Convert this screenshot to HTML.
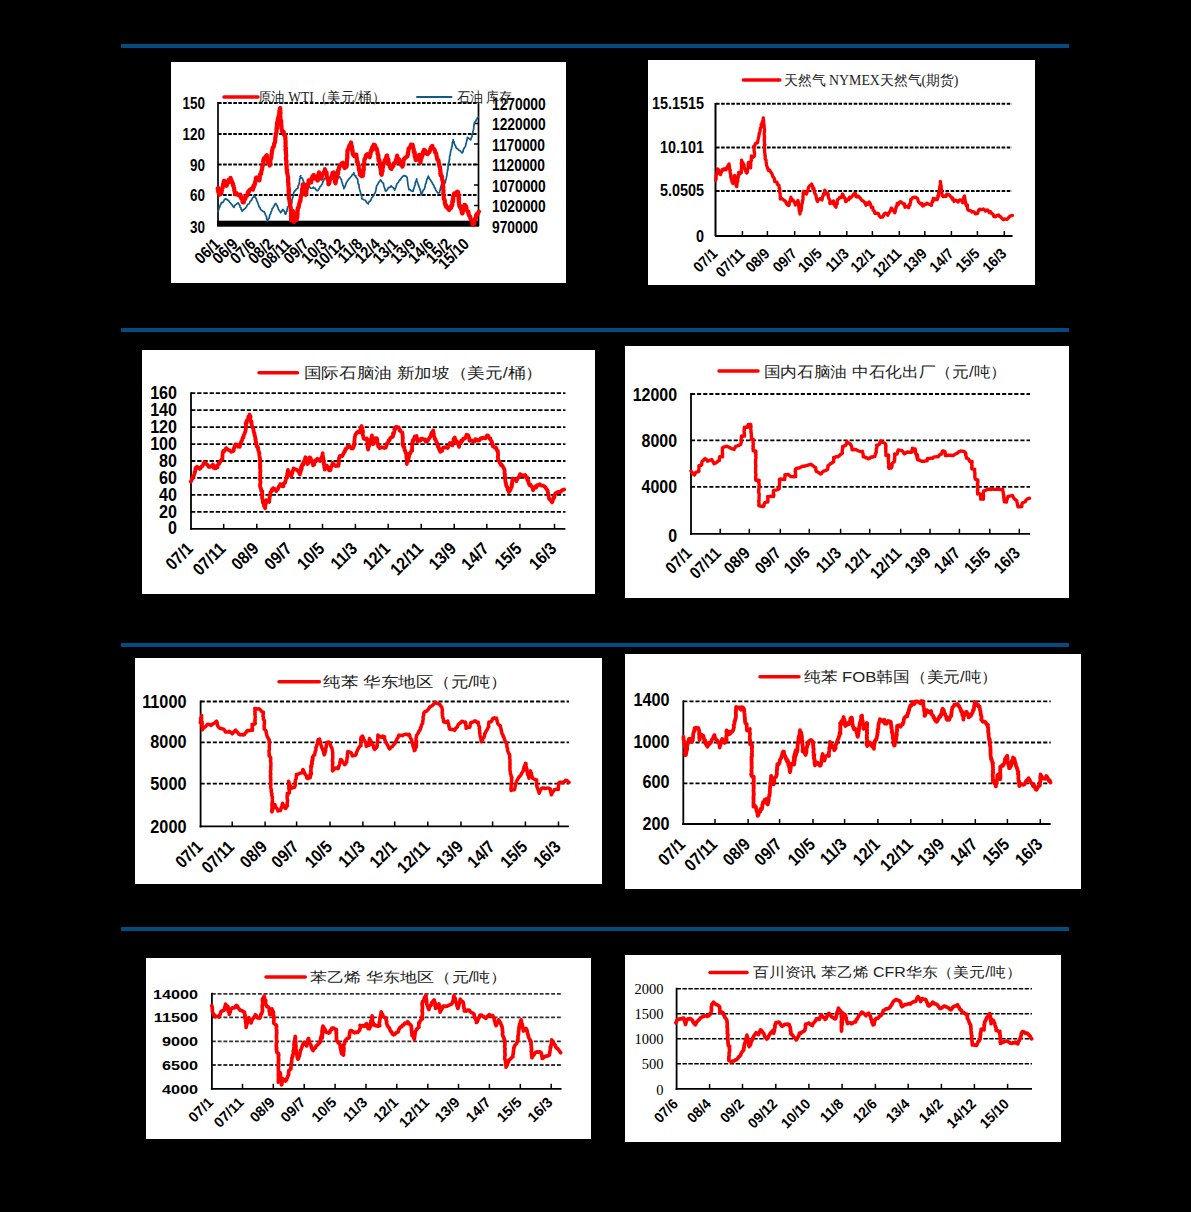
<!DOCTYPE html>
<html><head><meta charset="utf-8"><style>
html,body{margin:0;padding:0;background:#000;width:1191px;height:1212px;overflow:hidden}
svg{display:block;font-family:"Liberation Sans",sans-serif}
</style></head><body>
<svg width="1191" height="1212" viewBox="0 0 1191 1212">
<rect width="1191" height="1212" fill="#000"/>
<rect x="121" y="44" width="948" height="4" fill="#044c80"/>
<rect x="121" y="328" width="948" height="4" fill="#044c80"/>
<rect x="121" y="643" width="948" height="4" fill="#044c80"/>
<rect x="121" y="927" width="948" height="4" fill="#044c80"/>
<rect x="171" y="62" width="395" height="221" fill="#fff"/>
<line x1="218" y1="103" x2="479" y2="103" stroke="#000" stroke-width="2" stroke-dasharray="3.6 1.5"/>
<line x1="218" y1="134" x2="479" y2="134" stroke="#000" stroke-width="2" stroke-dasharray="3.6 1.5"/>
<line x1="218" y1="164.5" x2="479" y2="164.5" stroke="#000" stroke-width="2" stroke-dasharray="3.6 1.5"/>
<line x1="218" y1="195" x2="479" y2="195" stroke="#000" stroke-width="2" stroke-dasharray="3.6 1.5"/>
<line x1="218" y1="102" x2="218" y2="226" stroke="#000" stroke-width="1.7"/>
<line x1="478.5" y1="102" x2="478.5" y2="226" stroke="#000" stroke-width="1.7"/>
<rect x="217" y="220.7" width="262" height="6" fill="#000"/>
<line x1="474" y1="123.5" x2="479" y2="123.5" stroke="#000" stroke-width="1.5"/>
<line x1="474" y1="144" x2="479" y2="144" stroke="#000" stroke-width="1.5"/>
<line x1="474" y1="164.5" x2="479" y2="164.5" stroke="#000" stroke-width="1.5"/>
<line x1="474" y1="185" x2="479" y2="185" stroke="#000" stroke-width="1.5"/>
<line x1="474" y1="205.5" x2="479" y2="205.5" stroke="#000" stroke-width="1.5"/>
<text transform="translate(205 103) scale(0.8 1)" font-size="16.8" font-weight="bold" text-anchor="end" dominant-baseline="central">150</text>
<text transform="translate(205 134) scale(0.8 1)" font-size="16.8" font-weight="bold" text-anchor="end" dominant-baseline="central">120</text>
<text transform="translate(205 164.5) scale(0.8 1)" font-size="16.8" font-weight="bold" text-anchor="end" dominant-baseline="central">90</text>
<text transform="translate(205 195) scale(0.8 1)" font-size="16.8" font-weight="bold" text-anchor="end" dominant-baseline="central">60</text>
<text transform="translate(205 227) scale(0.8 1)" font-size="16.8" font-weight="bold" text-anchor="end" dominant-baseline="central">30</text>
<text transform="translate(492 103.5) scale(0.82 1)" font-size="16.8" font-weight="bold" text-anchor="start" dominant-baseline="central">1270000</text>
<text transform="translate(492 124) scale(0.82 1)" font-size="16.8" font-weight="bold" text-anchor="start" dominant-baseline="central">1220000</text>
<text transform="translate(492 144.5) scale(0.82 1)" font-size="16.8" font-weight="bold" text-anchor="start" dominant-baseline="central">1170000</text>
<text transform="translate(492 165) scale(0.82 1)" font-size="16.8" font-weight="bold" text-anchor="start" dominant-baseline="central">1120000</text>
<text transform="translate(492 185.5) scale(0.82 1)" font-size="16.8" font-weight="bold" text-anchor="start" dominant-baseline="central">1070000</text>
<text transform="translate(492 206) scale(0.82 1)" font-size="16.8" font-weight="bold" text-anchor="start" dominant-baseline="central">1020000</text>
<text transform="translate(492 227) scale(0.82 1)" font-size="16.8" font-weight="bold" text-anchor="start" dominant-baseline="central">970000</text>
<text transform="translate(221.0 245.0) rotate(-45) scale(0.88 1)" font-size="16.3" font-weight="bold" text-anchor="end">06/1</text>
<text transform="translate(238.8 245.0) rotate(-45) scale(0.88 1)" font-size="16.3" font-weight="bold" text-anchor="end">06/9</text>
<text transform="translate(256.6 245.0) rotate(-45) scale(0.88 1)" font-size="16.3" font-weight="bold" text-anchor="end">07/6</text>
<text transform="translate(274.4 245.0) rotate(-45) scale(0.88 1)" font-size="16.3" font-weight="bold" text-anchor="end">08/2</text>
<text transform="translate(292.2 245.0) rotate(-45) scale(0.88 1)" font-size="16.3" font-weight="bold" text-anchor="end">08/11</text>
<text transform="translate(310.0 245.0) rotate(-45) scale(0.88 1)" font-size="16.3" font-weight="bold" text-anchor="end">09/7</text>
<text transform="translate(327.8 245.0) rotate(-45) scale(0.88 1)" font-size="16.3" font-weight="bold" text-anchor="end">10/3</text>
<text transform="translate(345.6 245.0) rotate(-45) scale(0.88 1)" font-size="16.3" font-weight="bold" text-anchor="end">10/12</text>
<text transform="translate(363.4 245.0) rotate(-45) scale(0.88 1)" font-size="16.3" font-weight="bold" text-anchor="end">11/8</text>
<text transform="translate(381.2 245.0) rotate(-45) scale(0.88 1)" font-size="16.3" font-weight="bold" text-anchor="end">12/4</text>
<text transform="translate(399.0 245.0) rotate(-45) scale(0.88 1)" font-size="16.3" font-weight="bold" text-anchor="end">13/1</text>
<text transform="translate(416.8 245.0) rotate(-45) scale(0.88 1)" font-size="16.3" font-weight="bold" text-anchor="end">13/9</text>
<text transform="translate(434.6 245.0) rotate(-45) scale(0.88 1)" font-size="16.3" font-weight="bold" text-anchor="end">14/6</text>
<text transform="translate(452.4 245.0) rotate(-45) scale(0.88 1)" font-size="16.3" font-weight="bold" text-anchor="end">15/2</text>
<text transform="translate(470.2 245.0) rotate(-45) scale(0.88 1)" font-size="16.3" font-weight="bold" text-anchor="end">15/10</text>
<path d="M217.7,211.6 L218.5,210.3 L218.8,209.2 L219.1,207.9 L219.9,207.0 L220.1,205.2 L220.7,204.6 L221.6,202.4 L222.8,202.6 L223.7,201.2 L224.4,199.6 L225.7,198.7 L227.2,199.7 L228.7,200.8 L229.7,202.3 L230.6,203.2 L231.4,204.2 L232.1,204.9 L233.3,206.8 L234.0,207.5 L234.5,206.0 L235.4,204.8 L236.5,204.3 L237.4,203.3 L238.3,202.9 L238.3,203.2 L239.4,204.7 L240.0,205.7 L240.0,207.2 L240.9,207.9 L241.0,209.1 L242.1,210.7 L242.1,211.3 L243.1,210.0 L244.4,209.0 L245.2,208.3 L245.9,207.6 L246.6,206.5 L247.3,205.2 L248.1,204.0 L249.3,203.7 L249.6,202.8 L250.2,201.2 L251.3,200.6 L251.6,200.0 L252.4,198.1 L253.4,197.2 L253.9,195.9 L254.4,195.6 L255.0,196.8 L255.6,197.8 L256.4,199.0 L256.7,200.6 L256.9,200.9 L257.9,202.9 L258.0,203.3 L258.7,205.4 L258.9,206.5 L259.8,207.3 L260.0,207.9 L260.7,209.8 L261.8,210.3 L262.8,211.3 L264.0,211.5 L264.7,212.9 L265.0,213.5 L265.7,215.5 L266.1,216.1 L266.7,217.2 L266.5,218.5 L267.1,219.5 L267.4,221.1 L268.1,219.6 L268.4,219.4 L269.2,217.9 L269.5,216.7 L269.6,214.9 L270.0,214.7 L270.8,213.6 L270.9,212.1 L271.6,211.0 L271.9,210.2 L272.2,208.5 L273.1,207.8 L273.7,206.4 L274.4,205.6 L274.8,204.3 L275.8,203.4 L276.2,204.5 L277.0,205.5 L277.5,206.5 L278.1,207.9 L278.4,209.2 L279.5,210.7 L280.0,211.3 L280.6,212.7 L281.3,212.0 L282.0,210.8 L282.8,209.5 L283.8,210.4 L284.6,212.1 L285.2,213.9 L285.7,214.2 L286.0,213.8 L286.2,211.9 L287.0,211.3 L287.0,210.3 L287.2,208.9 L287.5,207.3 L288.1,206.7 L289.2,205.3 L290.1,204.5 L290.9,204.1 L291.7,203.3 L291.9,202.3 L291.9,200.1 L292.3,199.1 L292.5,198.1 L293.0,197.0 L293.1,196.3 L293.8,194.6 L293.5,193.0 L294.3,191.8 L294.5,191.3 L295.3,190.8 L296.2,189.3 L297.6,188.5 L298.1,187.5 L298.0,186.1 L298.6,185.3 L298.8,184.3 L299.2,183.5 L299.5,181.4 L299.6,180.1 L299.6,179.3 L300.4,177.7 L300.4,176.7 L300.9,175.7 L300.1,176.5 L300.8,177.6 L302.0,177.8 L302.9,179.6 L303.1,180.7 L304.1,182.6 L304.6,183.5 L305.6,185.1 L307.0,184.7 L308.1,184.4 L309.1,186.2 L309.9,187.2 L310.6,188.4 L312.4,188.0 L313.4,187.2 L314.2,188.2 L315.3,188.4 L315.7,189.4 L316.9,190.6 L317.7,190.6 L318.5,189.6 L319.2,188.6 L319.5,188.3 L320.1,186.5 L320.9,186.1 L321.7,184.8 L322.4,183.3 L323.1,181.6 L323.3,180.8 L323.9,179.8 L324.8,178.3 L326.5,177.6 L327.8,176.6 L329.2,178.1 L329.9,178.9 L331.4,179.4 L332.8,179.0 L334.3,179.4 L335.5,178.0 L336.8,177.8 L337.5,177.3 L338.7,176.2 L339.6,176.7 L340.4,178.2 L341.6,179.9 L341.5,180.6 L341.7,181.7 L342.5,183.5 L342.6,184.0 L342.8,185.6 L343.6,186.2 L343.8,187.3 L343.8,188.7 L344.6,187.6 L345.0,186.7 L345.4,185.6 L345.9,184.0 L346.5,182.4 L347.2,181.5 L347.9,180.4 L348.8,179.0 L349.4,178.5 L350.5,177.3 L351.4,176.3 L352.2,174.8 L353.0,174.4 L353.9,172.7 L354.2,174.5 L354.7,175.7 L355.7,175.7 L356.0,177.5 L356.6,177.8 L357.6,179.3 L357.8,180.1 L357.9,182.0 L357.9,182.6 L358.6,184.6 L359.0,184.8 L359.0,186.8 L359.3,187.9 L359.3,188.3 L359.6,189.4 L360.1,191.2 L360.5,192.0 L360.6,193.3 L361.3,195.5 L361.8,195.7 L361.6,198.0 L362.2,199.0 L363.2,199.4 L364.4,200.0 L365.5,200.3 L366.5,202.3 L367.0,202.9 L368.3,203.9 L368.6,202.6 L369.4,201.3 L370.3,201.2 L370.8,200.2 L371.4,198.6 L372.0,197.6 L372.9,196.9 L373.1,196.0 L374.0,194.7 L374.7,193.2 L375.3,192.7 L375.6,191.3 L376.0,189.6 L376.3,188.0 L376.4,187.2 L376.6,185.8 L377.3,184.9 L377.9,184.1 L378.9,182.1 L379.7,181.2 L380.5,179.8 L381.6,181.3 L382.4,182.7 L383.4,183.1 L383.7,185.2 L383.9,186.1 L384.2,187.1 L384.8,188.2 L385.2,190.4 L385.8,191.2 L386.9,190.2 L387.7,189.2 L388.4,187.5 L389.4,187.6 L390.1,187.1 L391.2,185.8 L392.0,186.9 L393.1,187.5 L394.1,189.0 L394.7,190.2 L395.1,188.6 L395.8,187.7 L396.1,186.6 L396.7,184.5 L397.2,183.3 L397.7,182.9 L398.6,182.0 L399.6,179.9 L400.6,179.9 L400.8,178.8 L402.1,177.2 L403.5,175.9 L404.3,175.6 L405.8,176.1 L407.3,177.6 L407.2,178.1 L407.4,179.8 L407.4,180.6 L407.7,182.0 L407.9,184.0 L408.0,184.8 L408.3,186.3 L408.6,187.8 L408.9,189.6 L410.2,189.5 L411.2,191.0 L413.1,191.4 L413.2,189.7 L413.8,188.9 L414.1,187.8 L414.6,186.1 L414.6,185.9 L415.4,184.6 L415.2,182.4 L415.8,181.7 L416.4,180.1 L416.7,178.9 L416.8,180.8 L417.4,181.9 L417.7,182.8 L418.0,183.8 L418.7,185.6 L418.6,185.9 L419.4,187.6 L419.8,188.3 L419.9,189.5 L420.6,190.8 L420.8,192.7 L421.0,193.3 L421.6,194.9 L422.1,193.0 L422.5,192.3 L423.2,190.1 L424.1,189.3 L424.8,187.7 L425.2,186.3 L425.2,185.8 L425.4,184.2 L426.1,183.5 L426.2,181.7 L426.5,181.2 L426.9,179.3 L427.4,178.6 L427.8,177.9 L428.2,176.1 L428.8,177.0 L429.2,178.2 L430.3,179.9 L430.6,180.3 L431.4,181.4 L432.1,182.5 L432.6,183.9 L433.6,185.1 L434.2,186.3 L434.4,187.7 L435.4,188.3 L435.5,189.8 L436.4,191.0 L437.3,192.3 L437.8,192.8 L439.7,192.6 L439.7,190.5 L440.4,190.2 L440.3,188.7 L440.6,187.6 L441.2,185.7 L441.2,185.1 L442.6,184.4 L443.8,183.1 L445.4,182.8 L445.3,181.4 L445.7,180.4 L446.1,178.8 L446.3,177.9 L446.5,176.8 L446.8,175.7 L447.1,174.1 L447.1,173.0 L447.5,171.4 L447.5,169.8 L448.0,169.6 L448.0,167.4 L448.1,166.4 L448.4,165.8 L448.5,163.7 L448.7,162.8 L449.3,161.0 L449.1,160.0 L449.6,159.3 L449.5,157.0 L449.8,155.9 L450.1,155.2 L450.5,153.3 L450.5,152.1 L450.7,151.4 L451.1,149.9 L451.6,148.6 L451.5,147.8 L452.2,145.9 L452.2,145.3 L452.4,143.2 L452.4,142.8 L453.1,140.8 L453.1,139.7 L453.5,141.5 L454.1,141.8 L454.2,143.3 L454.9,145.0 L455.6,146.0 L455.7,146.6 L456.2,148.0 L457.8,149.0 L458.9,150.3 L460.0,150.5 L461.0,151.8 L462.0,153.0 L463.1,151.6 L463.3,149.6 L464.4,148.1 L464.9,147.2 L465.5,146.1 L465.8,144.6 L466.1,143.5 L466.5,141.9 L466.8,140.8 L467.0,140.0 L467.1,139.2 L467.5,137.3 L468.4,138.0 L469.7,139.2 L470.8,139.9 L471.0,138.3 L471.5,137.8 L472.1,136.1 L472.0,134.5 L472.8,133.1 L473.0,132.1 L472.9,131.6 L473.6,129.4 L473.7,128.3 L473.7,127.4 L473.9,126.0 L474.1,125.1 L474.2,123.4 L474.7,122.3 L475.6,121.5 L476.2,120.2 L477.0,118.8 L477.4,117.8 L478.3,117.2" fill="none" stroke="#0e5a8a" stroke-width="1.7" stroke-linejoin="round" stroke-linecap="round" />
<path d="M217.7,188.5 L218.1,188.0 L218.0,190.1 L218.5,192.9 L219.1,193.5 L219.3,194.9 L220.2,193.1 L221.2,193.6 L221.5,192.1 L221.8,190.5 L222.2,188.4 L222.8,185.9 L222.7,187.7 L223.2,183.7 L223.8,185.4 L223.6,182.5 L223.9,180.9 L225.1,181.5 L226.0,182.1 L226.6,185.8 L227.4,183.4 L228.1,182.5 L228.6,179.9 L229.4,182.0 L230.2,179.9 L230.5,177.8 L231.2,180.2 L231.4,179.9 L232.1,182.1 L232.9,183.3 L233.0,185.7 L233.7,185.9 L233.8,186.8 L234.2,189.2 L234.2,189.7 L234.5,191.4 L234.6,191.2 L235.1,193.6 L235.1,194.3 L236.6,193.3 L238.2,195.2 L239.7,194.9 L239.9,196.0 L240.5,194.7 L241.2,198.4 L241.2,197.4 L242.1,198.9 L242.3,199.0 L242.6,202.3 L243.8,202.5 L244.1,198.1 L244.6,199.7 L245.5,198.1 L245.8,196.6 L246.6,195.9 L247.0,195.9 L248.0,192.0 L248.1,193.3 L248.7,192.3 L249.3,190.2 L251.1,188.9 L252.4,189.3 L253.0,189.6 L253.0,189.1 L253.5,185.7 L253.9,187.1 L254.3,184.7 L254.8,184.7 L255.1,181.6 L255.3,182.1 L255.8,179.8 L255.9,178.0 L256.4,177.5 L257.4,179.0 L259.2,180.4 L259.6,179.6 L259.7,178.0 L260.0,174.4 L260.3,174.0 L261.0,174.1 L261.2,172.6 L261.3,171.2 L262.0,169.5 L262.0,168.3 L262.3,168.1 L262.4,164.8 L262.7,165.7 L263.2,164.4 L263.5,162.2 L263.1,161.4 L263.6,159.1 L263.9,158.5 L265.0,157.3 L266.8,155.2 L266.9,157.4 L267.4,159.1 L267.9,162.0 L268.6,162.5 L269.0,163.0 L269.8,165.5 L269.8,162.9 L270.4,162.9 L270.3,160.6 L270.8,158.8 L271.0,158.4 L271.4,156.7 L271.5,154.7 L271.8,153.3 L271.9,152.1 L272.1,150.1 L272.3,150.4 L272.7,147.5 L273.3,147.1 L273.7,147.0 L273.7,146.8 L274.3,143.7 L274.2,143.6 L275.0,142.3 L275.2,140.5 L275.3,138.7 L275.3,137.9 L275.5,136.7 L275.9,134.7 L275.7,133.7 L276.3,133.4 L276.0,133.2 L276.6,132.0 L276.5,130.4 L276.6,127.2 L277.1,128.3 L276.9,127.2 L276.9,124.0 L277.1,122.4 L277.4,123.0 L277.7,120.1 L277.8,119.3 L278.4,119.1 L278.1,118.2 L278.6,116.2 L278.8,115.7 L279.1,114.0 L279.2,112.7 L279.4,111.2 L279.5,110.5 L279.8,108.5 L280.2,108.0 L280.2,109.9 L280.4,111.1 L280.1,111.4 L280.3,113.8 L280.6,112.9 L280.2,114.1 L280.3,115.2 L280.4,117.0 L280.5,119.7 L280.9,121.9 L281.2,122.4 L281.3,121.2 L281.0,125.5 L281.2,124.3 L281.5,126.2 L281.4,127.1 L281.4,127.6 L282.2,131.6 L283.1,132.0 L283.6,131.7 L283.9,134.7 L284.7,134.9 L285.0,134.5 L285.3,137.4 L285.5,138.7 L285.3,138.6 L285.7,141.9 L285.5,140.4 L285.6,142.8 L285.5,142.9 L285.6,145.4 L285.4,146.4 L286.0,148.3 L285.6,148.4 L285.6,150.7 L285.9,150.0 L285.9,152.6 L286.0,153.1 L285.9,154.2 L286.3,155.3 L286.1,157.0 L285.9,158.0 L286.0,158.9 L286.1,160.2 L286.5,161.3 L286.2,163.7 L286.3,164.4 L286.6,164.2 L286.7,165.5 L286.6,169.2 L287.2,170.0 L286.9,170.5 L287.1,173.1 L287.2,172.2 L287.6,175.0 L287.7,175.7 L288.1,176.9 L288.2,177.9 L288.0,179.0 L288.2,181.6 L288.0,182.0 L288.4,183.2 L288.4,184.8 L288.5,185.1 L288.3,185.2 L288.8,189.0 L288.5,190.8 L288.9,189.3 L288.9,191.4 L288.7,192.1 L288.8,192.6 L288.7,194.0 L288.9,195.4 L289.0,199.0 L289.3,199.1 L289.6,202.0 L289.5,200.9 L290.1,204.5 L290.4,204.5 L290.2,204.7 L290.7,207.9 L290.7,209.3 L290.6,209.8 L291.1,209.7 L291.0,211.3 L291.2,214.9 L291.2,214.8 L290.9,216.4 L291.2,217.4 L291.1,220.5 L291.7,218.0 L292.1,217.8 L292.2,215.4 L292.7,213.5 L293.0,211.0 L293.1,214.1 L293.2,217.0 L293.1,216.3 L293.7,218.8 L293.7,220.3 L294.0,221.9 L294.3,219.0 L294.4,216.9 L294.6,215.6 L295.4,214.7 L295.5,213.5 L296.1,216.1 L295.9,218.3 L296.6,220.0 L296.6,219.3 L297.0,217.6 L297.1,217.8 L297.3,217.0 L297.5,213.9 L297.6,213.2 L297.4,210.6 L297.8,210.5 L297.6,209.7 L297.9,207.9 L298.2,207.4 L298.6,207.6 L299.2,203.9 L299.6,202.6 L300.0,200.4 L300.0,202.0 L300.6,199.9 L300.8,196.6 L301.6,195.1 L301.3,195.1 L301.9,194.8 L302.2,193.9 L302.0,193.2 L302.1,189.1 L302.7,190.7 L302.7,188.1 L302.6,186.1 L302.7,184.4 L302.7,188.5 L302.8,188.5 L302.5,189.7 L302.3,191.9 L303.0,191.0 L303.3,188.8 L303.6,187.1 L304.3,184.6 L304.4,186.8 L304.6,188.7 L305.0,191.2 L305.5,190.9 L305.6,191.7 L305.7,194.9 L306.4,192.7 L306.5,189.8 L306.7,188.7 L306.9,188.9 L307.0,186.5 L307.6,186.2 L308.0,183.9 L307.8,185.4 L308.4,183.4 L308.6,180.3 L309.9,182.6 L311.0,182.5 L310.9,182.6 L311.2,182.4 L311.5,178.6 L311.8,178.0 L312.5,178.8 L312.7,176.1 L312.6,176.2 L313.7,175.1 L315.0,178.5 L315.5,177.2 L316.7,178.4 L317.3,180.3 L317.3,179.3 L317.7,180.5 L318.2,177.9 L318.0,175.4 L318.4,176.3 L319.0,172.4 L319.6,176.7 L320.4,174.7 L321.3,178.6 L321.8,176.8 L322.1,175.3 L322.6,173.9 L323.4,173.6 L323.7,172.8 L324.2,171.4 L324.9,170.4 L324.9,169.2 L325.6,172.5 L325.8,173.4 L326.4,172.1 L326.6,173.4 L326.9,177.8 L327.4,178.8 L327.8,178.4 L327.9,180.5 L328.1,179.8 L328.4,181.3 L328.4,184.3 L329.2,183.4 L329.7,180.3 L330.6,178.1 L331.3,177.7 L331.6,176.3 L332.3,174.5 L332.5,172.8 L333.0,173.4 L333.9,172.5 L333.8,174.9 L334.1,176.1 L334.2,177.6 L334.6,177.6 L334.9,181.8 L335.5,183.2 L335.9,181.1 L336.0,177.7 L336.8,178.4 L337.0,175.3 L337.4,175.4 L337.3,173.0 L338.2,173.2 L338.0,170.1 L338.8,169.8 L339.0,167.8 L339.1,167.8 L339.6,165.4 L340.6,165.6 L341.6,163.6 L342.9,162.8 L343.9,166.3 L344.6,168.0 L345.1,167.3 L346.1,167.2 L346.5,165.9 L346.6,166.8 L346.7,163.5 L346.8,165.4 L346.8,162.8 L346.9,161.3 L347.1,160.4 L347.0,158.6 L347.2,158.0 L347.5,157.4 L347.2,156.0 L347.3,154.0 L347.5,153.6 L347.4,150.4 L347.5,150.8 L348.0,149.4 L348.9,147.7 L348.9,147.1 L349.5,145.3 L349.8,144.9 L350.4,144.7 L351.0,142.5 L351.4,144.7 L351.1,145.8 L351.3,147.2 L351.9,146.1 L352.1,148.4 L352.1,149.9 L352.3,151.2 L352.6,150.3 L352.8,153.9 L353.1,154.6 L353.1,154.6 L354.3,156.1 L355.5,155.0 L355.8,154.5 L356.4,154.6 L356.6,158.5 L356.8,157.7 L356.9,161.6 L357.2,161.9 L357.7,161.9 L358.0,164.6 L358.0,164.4 L358.7,165.5 L358.7,167.6 L359.1,170.2 L359.3,170.6 L359.4,170.0 L359.7,172.4 L360.0,173.4 L359.8,174.7 L361.6,176.2 L362.9,175.7 L362.7,175.2 L363.0,173.5 L363.4,173.0 L362.9,171.4 L363.3,171.5 L363.6,168.5 L363.8,169.9 L363.7,167.9 L363.7,165.0 L363.6,166.5 L364.3,163.6 L364.2,162.4 L364.4,159.9 L364.5,159.0 L364.8,159.2 L365.4,157.9 L365.5,157.3 L366.0,155.1 L366.7,155.3 L367.3,154.2 L368.5,156.2 L369.7,157.2 L370.3,154.3 L370.6,154.0 L370.6,151.5 L370.9,152.1 L371.5,149.1 L372.0,150.3 L372.0,148.1 L372.4,147.2 L373.1,146.0 L373.9,144.6 L375.0,145.3 L375.8,149.0 L376.6,148.2 L377.0,150.0 L377.1,150.5 L377.7,152.8 L377.5,154.0 L378.1,155.0 L378.4,155.1 L378.3,158.4 L378.5,157.1 L378.7,161.0 L379.3,159.9 L379.5,161.2 L379.7,161.8 L379.9,165.6 L380.0,166.5 L380.0,167.2 L380.6,168.2 L380.8,170.3 L381.1,172.0 L381.0,173.6 L381.5,173.6 L381.7,174.8 L381.8,173.2 L382.0,171.8 L382.5,171.5 L382.5,169.9 L382.7,167.4 L383.0,167.0 L383.1,166.0 L383.2,165.1 L383.8,162.8 L384.0,163.6 L384.8,160.1 L385.0,159.7 L385.7,159.5 L386.5,156.1 L387.1,155.5 L387.3,158.2 L388.0,159.0 L388.4,159.6 L388.2,162.7 L388.7,162.0 L389.0,164.3 L389.2,163.8 L389.8,166.8 L390.1,166.3 L390.6,168.4 L391.5,168.9 L392.3,166.5 L393.5,165.9 L393.9,163.3 L394.3,163.2 L394.8,163.2 L395.6,161.3 L395.8,160.4 L396.4,159.1 L397.1,155.6 L397.6,159.3 L398.0,158.5 L398.5,161.4 L399.2,159.5 L399.8,162.3 L400.8,164.7 L401.6,163.0 L402.4,166.7 L402.8,165.5 L403.2,163.5 L403.6,160.0 L404.2,158.6 L404.3,159.2 L405.4,157.8 L406.5,157.0 L407.6,155.3 L407.6,156.2 L407.8,152.8 L407.9,154.7 L408.1,152.8 L408.1,152.5 L408.4,150.7 L408.5,149.5 L408.5,148.7 L410.0,147.5 L411.0,144.6 L411.7,145.3 L412.4,145.6 L412.6,144.8 L412.9,146.2 L413.3,148.1 L413.7,149.1 L413.9,152.4 L414.2,151.5 L414.7,152.3 L414.6,155.9 L414.9,156.9 L415.4,156.3 L415.4,158.0 L415.6,160.0 L416.3,160.0 L416.8,157.7 L417.5,155.7 L418.3,155.4 L418.7,155.9 L419.5,155.3 L419.6,155.0 L419.6,157.0 L419.9,155.7 L420.0,159.1 L420.0,160.9 L420.4,162.3 L420.3,162.8 L420.8,160.5 L420.9,158.5 L421.6,157.9 L421.6,156.7 L422.1,156.3 L422.6,153.7 L422.6,155.1 L423.2,151.3 L423.3,153.3 L423.9,149.8 L425.2,150.6 L426.2,153.2 L427.7,154.2 L428.7,152.7 L429.6,151.8 L430.6,148.2 L431.1,147.2 L432.3,145.9 L432.7,147.9 L433.4,148.7 L434.4,149.5 L434.9,150.8 L435.1,152.5 L435.8,152.5 L436.2,153.9 L436.7,156.7 L436.9,157.7 L437.3,159.5 L437.4,159.0 L438.4,160.5 L438.5,161.2 L439.3,165.1 L439.4,166.7 L439.6,166.6 L440.0,167.0 L440.0,169.0 L440.4,169.4 L440.2,173.1 L440.4,171.3 L440.9,175.3 L440.6,175.2 L441.6,175.8 L441.8,176.1 L442.2,179.5 L442.9,181.7 L442.9,180.9 L443.0,181.7 L443.1,184.8 L442.9,185.7 L443.4,187.3 L443.1,188.4 L443.0,187.8 L443.5,191.1 L443.4,191.8 L443.3,194.0 L443.4,195.2 L443.6,194.8 L443.7,196.1 L443.8,198.9 L444.3,199.4 L444.2,199.0 L444.9,200.7 L444.8,202.8 L445.2,204.5 L445.4,205.0 L446.1,205.0 L446.1,206.9 L447.0,206.8 L448.2,208.9 L449.2,209.9 L450.0,207.7 L450.9,208.1 L451.4,205.4 L452.1,205.7 L452.4,204.5 L452.2,201.6 L453.0,201.7 L452.9,199.0 L453.2,200.2 L453.2,197.1 L453.2,196.0 L453.7,195.3 L454.2,193.3 L455.2,194.9 L456.5,194.1 L457.1,191.6 L458.2,192.1 L458.2,193.2 L458.5,193.9 L458.2,195.9 L458.7,195.5 L458.5,198.7 L458.9,197.5 L459.0,199.5 L458.7,200.2 L459.0,202.8 L459.2,204.9 L459.6,206.8 L460.4,206.0 L460.2,206.3 L460.8,208.5 L461.3,209.8 L461.4,210.2 L462.2,213.4 L462.4,212.8 L462.5,213.4 L462.9,210.6 L463.0,211.2 L463.1,209.4 L463.7,207.8 L463.9,207.9 L464.0,206.1 L464.5,204.9 L464.7,206.0 L465.4,205.3 L466.3,207.0 L466.5,208.4 L466.8,209.6 L467.7,212.1 L468.4,211.7 L468.8,215.3 L469.6,216.3 L470.2,216.5 L470.6,219.2 L471.5,220.0 L471.6,221.0 L472.3,221.0 L472.6,224.4 L472.9,224.7 L473.2,223.9 L473.6,223.7 L474.4,223.4 L474.5,220.7 L474.9,219.4 L474.9,218.9 L475.4,219.3 L475.9,217.6 L476.1,215.5 L476.6,214.1 L477.8,214.3 L478.1,213.1 L478.9,211.6" fill="none" stroke="#ff0000" stroke-width="4.2" stroke-linejoin="round" stroke-linecap="round" />
<line x1="224" y1="97" x2="258" y2="97" stroke="#f00" stroke-width="3.5" stroke-linecap="round"/>
<text x="258" y="97" font-size="14" dominant-baseline="central" font-family="Liberation Serif" fill="#222" textLength="127.0" lengthAdjust="spacingAndGlyphs">原油 WTI（美元/桶）</text>
<line x1="417" y1="97" x2="451.5" y2="97" stroke="#0e5a8a" stroke-width="2" stroke-linecap="round"/>
<text x="456.5" y="97" font-size="14" dominant-baseline="central" font-family="Liberation Serif" fill="#222" textLength="55.5" lengthAdjust="spacingAndGlyphs">石油 库存</text>
<rect x="648" y="60" width="387" height="225" fill="#fff"/>
<line x1="716" y1="103.8" x2="1012" y2="103.8" stroke="#000" stroke-width="2" stroke-dasharray="3.6 1.5"/>
<line x1="716" y1="147.4" x2="1012" y2="147.4" stroke="#000" stroke-width="2" stroke-dasharray="3.6 1.5"/>
<line x1="716" y1="191" x2="1012" y2="191" stroke="#000" stroke-width="2" stroke-dasharray="3.6 1.5"/>
<line x1="715.5" y1="103" x2="715.5" y2="236" stroke="#000" stroke-width="2"/>
<line x1="715" y1="236" x2="1012.5" y2="236" stroke="#000" stroke-width="2"/>
<line x1="742.4" y1="231" x2="742.4" y2="236" stroke="#000" stroke-width="1.5"/>
<line x1="767.4" y1="231" x2="767.4" y2="236" stroke="#000" stroke-width="1.5"/>
<line x1="794.7" y1="231" x2="794.7" y2="236" stroke="#000" stroke-width="1.5"/>
<line x1="819.8" y1="231" x2="819.8" y2="236" stroke="#000" stroke-width="1.5"/>
<line x1="846.8" y1="231" x2="846.8" y2="236" stroke="#000" stroke-width="1.5"/>
<line x1="872.4" y1="231" x2="872.4" y2="236" stroke="#000" stroke-width="1.5"/>
<line x1="899.3" y1="231" x2="899.3" y2="236" stroke="#000" stroke-width="1.5"/>
<line x1="924.8" y1="231" x2="924.8" y2="236" stroke="#000" stroke-width="1.5"/>
<line x1="951.4" y1="231" x2="951.4" y2="236" stroke="#000" stroke-width="1.5"/>
<line x1="977.4" y1="231" x2="977.4" y2="236" stroke="#000" stroke-width="1.5"/>
<line x1="1004.3" y1="231" x2="1004.3" y2="236" stroke="#000" stroke-width="1.5"/>
<text transform="translate(704 103.5) scale(0.9 1)" font-size="16" font-weight="bold" text-anchor="end" dominant-baseline="central">15.1515</text>
<text transform="translate(704 147.0) scale(0.9 1)" font-size="16" font-weight="bold" text-anchor="end" dominant-baseline="central">10.101</text>
<text transform="translate(704 190.5) scale(0.9 1)" font-size="16" font-weight="bold" text-anchor="end" dominant-baseline="central">5.0505</text>
<text transform="translate(704 236.5) scale(0.9 1)" font-size="16" font-weight="bold" text-anchor="end" dominant-baseline="central">0</text>
<text transform="translate(718.4 254.5) rotate(-45) scale(0.9 1)" font-size="15.2" font-weight="bold" text-anchor="end">07/1</text>
<text transform="translate(745.6 254.5) rotate(-45) scale(0.9 1)" font-size="15.2" font-weight="bold" text-anchor="end">07/11</text>
<text transform="translate(770.6 254.5) rotate(-45) scale(0.9 1)" font-size="15.2" font-weight="bold" text-anchor="end">08/9</text>
<text transform="translate(797.9 254.5) rotate(-45) scale(0.9 1)" font-size="15.2" font-weight="bold" text-anchor="end">09/7</text>
<text transform="translate(823.0 254.5) rotate(-45) scale(0.9 1)" font-size="15.2" font-weight="bold" text-anchor="end">10/5</text>
<text transform="translate(850.0 254.5) rotate(-45) scale(0.9 1)" font-size="15.2" font-weight="bold" text-anchor="end">11/3</text>
<text transform="translate(875.6 254.5) rotate(-45) scale(0.9 1)" font-size="15.2" font-weight="bold" text-anchor="end">12/1</text>
<text transform="translate(902.5 254.5) rotate(-45) scale(0.9 1)" font-size="15.2" font-weight="bold" text-anchor="end">12/11</text>
<text transform="translate(928.0 254.5) rotate(-45) scale(0.9 1)" font-size="15.2" font-weight="bold" text-anchor="end">13/9</text>
<text transform="translate(954.6 254.5) rotate(-45) scale(0.9 1)" font-size="15.2" font-weight="bold" text-anchor="end">14/7</text>
<text transform="translate(980.6 254.5) rotate(-45) scale(0.9 1)" font-size="15.2" font-weight="bold" text-anchor="end">15/5</text>
<text transform="translate(1007.5 254.5) rotate(-45) scale(0.9 1)" font-size="15.2" font-weight="bold" text-anchor="end">16/3</text>
<path d="M715.6,180.2 L716.1,179.3 L716.1,176.5 L716.3,175.2 L716.9,173.6 L717.1,172.6 L717.2,171.8 L717.8,171.0 L717.5,168.9 L717.9,169.1 L718.7,170.1 L719.2,171.1 L719.7,172.4 L719.8,173.7 L720.4,174.6 L721.1,172.6 L721.7,171.5 L722.4,169.5 L723.4,170.1 L724.2,168.7 L725.1,169.4 L726.0,169.8 L726.9,167.2 L727.4,166.8 L728.2,165.3 L729.1,163.9 L729.0,165.3 L729.3,165.9 L729.4,167.4 L729.5,169.4 L730.2,169.9 L730.2,172.5 L730.0,171.7 L730.6,174.7 L730.7,174.2 L730.7,177.2 L731.4,178.2 L731.4,179.5 L731.9,180.3 L732.1,182.1 L732.8,182.6 L732.9,183.5 L733.4,182.1 L733.6,181.1 L733.9,178.6 L734.1,178.3 L734.3,175.7 L734.6,175.5 L735.1,176.5 L734.9,177.5 L735.3,177.9 L735.3,181.5 L735.6,181.0 L735.9,183.1 L735.9,184.0 L736.3,186.2 L736.3,186.2 L736.8,186.6 L737.0,184.1 L737.3,182.3 L737.1,181.6 L737.9,181.0 L737.7,179.6 L738.3,177.2 L738.3,176.2 L738.3,174.8 L738.5,173.7 L738.6,172.5 L739.8,174.0 L741.3,172.7 L741.4,171.9 L741.3,171.6 L741.3,169.6 L741.4,168.0 L741.7,166.6 L741.7,165.7 L741.4,164.8 L741.3,162.9 L741.6,162.5 L741.9,162.6 L741.5,160.2 L742.0,162.0 L742.5,163.4 L743.0,162.6 L743.1,164.0 L744.1,164.9 L744.2,166.7 L744.6,169.0 L745.1,169.9 L745.9,171.6 L746.4,172.7 L746.9,173.0 L747.3,172.4 L747.7,169.1 L747.5,168.9 L748.2,167.6 L748.1,167.4 L748.3,163.8 L748.4,162.3 L749.4,163.7 L750.0,166.8 L750.7,167.8 L750.5,166.0 L750.9,165.0 L750.7,163.8 L750.8,161.3 L751.5,160.4 L751.2,160.0 L751.4,156.6 L751.3,156.0 L752.9,157.2 L754.3,156.4 L754.6,153.9 L754.6,153.5 L754.2,150.9 L754.1,151.2 L754.1,148.1 L753.9,147.5 L753.7,146.4 L754.5,146.2 L755.4,143.5 L756.6,143.1 L757.6,142.7 L757.7,142.3 L757.8,140.8 L758.3,138.7 L758.8,136.3 L759.0,135.3 L759.3,134.1 L759.1,133.7 L759.9,131.7 L760.0,131.3 L760.2,129.8 L760.4,128.3 L761.2,126.7 L761.2,124.6 L761.8,124.2 L762.2,123.7 L762.0,122.7 L762.8,121.0 L763.1,119.2 L763.3,117.8 L763.3,118.0 L763.2,120.5 L763.6,120.0 L763.7,122.7 L763.7,124.4 L764.1,124.6 L764.1,126.2 L764.1,127.3 L764.4,128.6 L764.6,129.6 L764.4,132.3 L764.5,132.1 L764.1,133.6 L764.4,135.7 L764.6,137.4 L764.4,137.1 L764.5,139.2 L764.3,139.0 L764.3,140.5 L764.5,143.4 L764.4,144.5 L764.5,143.8 L764.9,144.7 L764.5,146.0 L764.5,147.9 L764.6,148.5 L764.5,151.1 L764.5,151.1 L764.9,154.0 L764.9,154.8 L765.0,156.2 L765.3,155.9 L765.1,158.4 L765.6,159.5 L766.0,159.9 L766.2,161.9 L766.3,162.7 L766.5,164.9 L767.1,166.9 L767.4,167.6 L767.8,168.6 L768.3,170.3 L769.2,169.8 L770.0,170.9 L770.5,171.8 L771.5,172.9 L772.5,175.3 L772.8,176.8 L773.1,177.0 L773.6,177.3 L774.4,178.7 L774.8,181.7 L776.2,181.9 L777.0,182.3 L777.3,184.4 L778.0,184.6 L779.0,185.4 L779.2,188.5 L779.6,188.1 L779.8,190.6 L779.8,192.9 L780.1,193.3 L780.2,194.3 L780.2,196.4 L780.4,196.6 L780.2,199.0 L781.5,198.4 L782.7,199.1 L783.9,200.2 L784.8,200.7 L785.7,201.5 L786.3,203.5 L787.2,204.6 L788.0,205.3 L788.6,205.5 L788.7,205.0 L789.2,205.0 L789.3,202.4 L790.0,201.6 L790.4,199.6 L790.7,199.2 L790.9,197.1 L791.6,200.0 L792.6,200.3 L793.1,199.9 L794.1,201.9 L794.9,203.3 L795.4,205.0 L796.0,204.0 L796.8,202.9 L797.9,200.4 L798.3,201.8 L798.3,201.9 L798.7,204.7 L798.6,204.6 L798.9,208.0 L799.4,208.1 L799.1,210.3 L799.5,211.3 L799.9,213.2 L799.9,214.0 L800.5,210.7 L800.7,210.1 L801.1,210.5 L801.4,208.0 L801.6,206.1 L801.8,204.4 L802.3,203.0 L802.4,202.0 L802.6,200.4 L802.4,200.6 L802.9,200.0 L803.1,199.0 L802.9,196.7 L803.3,194.3 L803.1,193.2 L803.5,193.3 L803.7,191.5 L804.3,193.0 L805.5,192.7 L806.5,194.1 L806.7,193.5 L807.3,191.4 L807.5,190.6 L808.0,190.9 L808.1,189.5 L808.6,187.1 L808.9,186.8 L809.5,185.8 L810.2,185.7 L811.7,184.1 L812.0,185.3 L812.7,186.1 L812.8,188.8 L813.4,187.8 L814.1,189.1 L814.2,191.6 L814.8,193.5 L814.9,193.8 L815.8,194.7 L816.0,195.8 L816.4,198.2 L816.6,198.8 L817.0,200.4 L817.6,201.5 L817.5,200.8 L819.1,199.2 L820.4,198.6 L822.0,199.9 L822.2,199.0 L822.7,196.3 L823.0,196.1 L823.5,193.6 L823.9,194.8 L824.4,192.9 L824.8,190.2 L825.9,191.7 L826.5,193.9 L827.8,193.5 L828.3,194.7 L828.2,196.6 L828.9,198.8 L829.2,199.2 L829.6,199.6 L830.0,200.5 L829.8,203.5 L831.3,202.9 L832.2,203.0 L833.5,200.9 L833.8,204.1 L834.4,203.3 L835.1,206.2 L836.0,207.2 L836.3,203.9 L836.7,203.2 L837.2,204.1 L837.1,202.3 L837.6,199.5 L838.3,199.2 L838.9,198.6 L839.7,197.3 L841.0,197.5 L841.6,196.7 L842.5,194.0 L843.2,195.0 L843.6,197.5 L844.4,197.4 L845.0,198.4 L845.7,201.7 L846.2,201.5 L847.0,200.5 L847.9,199.1 L848.7,199.6 L849.6,197.1 L850.4,198.2 L851.4,197.2 L852.5,195.8 L853.3,194.7 L854.2,193.6 L855.4,193.4 L855.8,196.4 L857.1,197.0 L858.0,196.0 L859.0,196.8 L860.3,198.3 L861.2,199.4 L862.0,200.5 L863.3,201.1 L864.0,201.8 L864.7,202.5 L866.0,205.2 L866.9,203.0 L868.1,204.2 L869.2,202.0 L869.9,202.9 L870.5,204.4 L871.5,207.4 L871.9,206.9 L872.8,207.4 L873.0,210.0 L873.7,210.5 L874.1,210.8 L874.5,212.4 L874.9,213.3 L877.0,213.1 L878.5,213.5 L879.2,215.9 L880.6,217.3 L881.0,217.1 L882.0,216.8 L882.7,217.0 L883.3,216.3 L884.1,213.8 L885.0,213.4 L885.3,213.1 L886.6,213.5 L887.8,215.3 L888.6,213.1 L889.1,212.8 L890.1,211.2 L890.8,209.8 L891.2,208.1 L892.0,208.6 L893.2,210.5 L893.6,210.5 L894.7,212.9 L895.3,211.6 L895.3,209.6 L896.0,208.3 L896.1,206.3 L896.4,206.3 L896.9,206.3 L897.2,203.5 L898.4,204.5 L899.1,202.6 L900.5,201.7 L901.5,202.4 L902.3,203.0 L903.1,203.9 L904.5,203.9 L904.9,207.3 L906.5,206.7 L907.3,206.5 L908.7,207.7 L908.9,206.8 L909.1,204.9 L910.0,205.1 L910.1,203.6 L910.7,201.7 L910.7,199.5 L911.9,199.2 L912.6,197.6 L913.8,197.3 L914.4,197.4 L915.4,197.1 L916.7,198.1 L917.6,198.5 L918.4,201.6 L919.4,202.8 L920.5,204.0 L921.3,203.3 L919.8,203.1 L921.0,204.2 L922.0,203.5 L922.7,206.0 L923.7,205.6 L924.9,204.3 L925.8,204.3 L926.9,203.1 L928.2,204.0 L929.6,204.5 L930.8,204.3 L931.4,205.3 L932.1,201.9 L932.5,200.8 L932.8,201.8 L933.3,198.3 L933.9,198.4 L935.0,199.8 L936.2,198.6 L937.2,199.6 L937.8,198.0 L937.8,196.0 L938.4,196.6 L938.5,194.5 L938.7,191.7 L938.8,191.6 L939.5,190.5 L939.6,189.6 L939.7,187.1 L939.8,186.9 L940.3,184.7 L940.5,184.4 L940.3,181.3 L940.7,183.9 L940.7,184.4 L941.1,185.3 L941.2,186.0 L941.2,188.7 L941.6,189.7 L941.6,191.4 L941.8,192.1 L941.7,192.5 L942.2,195.5 L943.2,196.6 L944.2,196.2 L945.1,196.1 L946.1,196.3 L946.8,194.1 L947.9,194.6 L948.9,194.6 L950.3,196.2 L950.9,197.1 L951.5,197.2 L952.4,199.5 L952.8,198.2 L953.8,200.4 L954.1,201.5 L955.3,200.2 L956.7,200.4 L958.0,202.1 L959.6,200.0 L960.3,199.9 L961.7,200.5 L962.5,202.8 L963.1,201.5 L963.3,198.5 L963.8,198.7 L963.9,197.1 L964.5,195.9 L964.7,197.1 L964.8,197.6 L965.1,200.8 L965.5,201.7 L965.7,203.6 L965.9,204.8 L966.7,206.2 L967.4,205.0 L967.3,206.8 L967.8,209.6 L968.3,210.2 L969.9,210.7 L971.1,210.9 L971.9,212.1 L973.0,211.6 L974.3,212.2 L975.3,213.8 L976.9,213.7 L977.5,213.5 L978.6,210.3 L979.4,209.6 L979.8,209.1 L981.4,209.7 L983.2,208.9 L984.5,209.8 L985.6,211.1 L987.3,209.9 L988.4,210.8 L989.4,212.6 L990.6,211.7 L991.1,213.1 L992.3,213.8 L993.1,214.3 L993.8,216.6 L995.5,216.8 L996.9,215.4 L998.7,215.0 L999.5,216.4 L1000.8,216.9 L1002.3,218.8 L1003.4,219.7 L1004.5,218.9 L1005.8,219.2 L1006.5,219.4 L1007.6,218.9 L1009.0,217.1 L1010.3,216.0 L1011.3,215.7 L1012.4,215.5" fill="none" stroke="#ff0000" stroke-width="3.3" stroke-linejoin="round" stroke-linecap="round" />
<line x1="743.4" y1="80" x2="779.8" y2="80" stroke="#f00" stroke-width="3.5" stroke-linecap="round"/>
<text x="784" y="80" font-size="14" dominant-baseline="central" font-family="Liberation Serif" fill="#222" textLength="174.4" lengthAdjust="spacingAndGlyphs">天然气 NYMEX天然气(期货)</text>
<rect x="142" y="350" width="453" height="244" fill="#fff"/>
<line x1="191" y1="393.2" x2="565.4" y2="393.2" stroke="#000" stroke-width="1.8" stroke-dasharray="4.3 1.9"/>
<line x1="191" y1="410.15" x2="565.4" y2="410.15" stroke="#000" stroke-width="1.8" stroke-dasharray="4.3 1.9"/>
<line x1="191" y1="427.09999999999997" x2="565.4" y2="427.09999999999997" stroke="#000" stroke-width="1.8" stroke-dasharray="4.3 1.9"/>
<line x1="191" y1="444.04999999999995" x2="565.4" y2="444.04999999999995" stroke="#000" stroke-width="1.8" stroke-dasharray="4.3 1.9"/>
<line x1="191" y1="461.0" x2="565.4" y2="461.0" stroke="#000" stroke-width="1.8" stroke-dasharray="4.3 1.9"/>
<line x1="191" y1="477.95" x2="565.4" y2="477.95" stroke="#000" stroke-width="1.8" stroke-dasharray="4.3 1.9"/>
<line x1="191" y1="494.9" x2="565.4" y2="494.9" stroke="#000" stroke-width="1.8" stroke-dasharray="4.3 1.9"/>
<line x1="191" y1="511.84999999999997" x2="565.4" y2="511.84999999999997" stroke="#000" stroke-width="1.8" stroke-dasharray="4.3 1.9"/>
<line x1="191" y1="392.2" x2="191" y2="529.8" stroke="#000" stroke-width="1.8"/>
<line x1="190" y1="528.8" x2="565.4" y2="528.8" stroke="#000" stroke-width="1.8"/>
<line x1="223.7" y1="523.8" x2="223.7" y2="528.8" stroke="#000" stroke-width="1.5"/>
<line x1="256.8" y1="523.8" x2="256.8" y2="528.8" stroke="#000" stroke-width="1.5"/>
<line x1="289.7" y1="523.8" x2="289.7" y2="528.8" stroke="#000" stroke-width="1.5"/>
<line x1="322.5" y1="523.8" x2="322.5" y2="528.8" stroke="#000" stroke-width="1.5"/>
<line x1="355.4" y1="523.8" x2="355.4" y2="528.8" stroke="#000" stroke-width="1.5"/>
<line x1="388.2" y1="523.8" x2="388.2" y2="528.8" stroke="#000" stroke-width="1.5"/>
<line x1="421.2" y1="523.8" x2="421.2" y2="528.8" stroke="#000" stroke-width="1.5"/>
<line x1="454.2" y1="523.8" x2="454.2" y2="528.8" stroke="#000" stroke-width="1.5"/>
<line x1="486.8" y1="523.8" x2="486.8" y2="528.8" stroke="#000" stroke-width="1.5"/>
<line x1="519.9" y1="523.8" x2="519.9" y2="528.8" stroke="#000" stroke-width="1.5"/>
<line x1="554.5" y1="523.8" x2="554.5" y2="528.8" stroke="#000" stroke-width="1.5"/>
<text transform="translate(177 392.5) scale(0.88 1)" font-size="18.3" font-weight="bold" text-anchor="end" dominant-baseline="central">160</text>
<text transform="translate(177 409.45) scale(0.88 1)" font-size="18.3" font-weight="bold" text-anchor="end" dominant-baseline="central">140</text>
<text transform="translate(177 426.4) scale(0.88 1)" font-size="18.3" font-weight="bold" text-anchor="end" dominant-baseline="central">120</text>
<text transform="translate(177 443.35) scale(0.88 1)" font-size="18.3" font-weight="bold" text-anchor="end" dominant-baseline="central">100</text>
<text transform="translate(177 460.3) scale(0.88 1)" font-size="18.3" font-weight="bold" text-anchor="end" dominant-baseline="central">80</text>
<text transform="translate(177 477.25) scale(0.88 1)" font-size="18.3" font-weight="bold" text-anchor="end" dominant-baseline="central">60</text>
<text transform="translate(177 494.2) scale(0.88 1)" font-size="18.3" font-weight="bold" text-anchor="end" dominant-baseline="central">40</text>
<text transform="translate(177 511.15) scale(0.88 1)" font-size="18.3" font-weight="bold" text-anchor="end" dominant-baseline="central">20</text>
<text transform="translate(177 528.1) scale(0.88 1)" font-size="18.3" font-weight="bold" text-anchor="end" dominant-baseline="central">0</text>
<text transform="translate(194.0 549.8) rotate(-45) scale(0.88 1)" font-size="17.5" font-weight="bold" text-anchor="end">07/1</text>
<text transform="translate(226.7 549.8) rotate(-45) scale(0.88 1)" font-size="17.5" font-weight="bold" text-anchor="end">07/11</text>
<text transform="translate(259.8 549.8) rotate(-45) scale(0.88 1)" font-size="17.5" font-weight="bold" text-anchor="end">08/9</text>
<text transform="translate(292.7 549.8) rotate(-45) scale(0.88 1)" font-size="17.5" font-weight="bold" text-anchor="end">09/7</text>
<text transform="translate(325.5 549.8) rotate(-45) scale(0.88 1)" font-size="17.5" font-weight="bold" text-anchor="end">10/5</text>
<text transform="translate(358.4 549.8) rotate(-45) scale(0.88 1)" font-size="17.5" font-weight="bold" text-anchor="end">11/3</text>
<text transform="translate(391.2 549.8) rotate(-45) scale(0.88 1)" font-size="17.5" font-weight="bold" text-anchor="end">12/1</text>
<text transform="translate(424.2 549.8) rotate(-45) scale(0.88 1)" font-size="17.5" font-weight="bold" text-anchor="end">12/11</text>
<text transform="translate(457.2 549.8) rotate(-45) scale(0.88 1)" font-size="17.5" font-weight="bold" text-anchor="end">13/9</text>
<text transform="translate(489.8 549.8) rotate(-45) scale(0.88 1)" font-size="17.5" font-weight="bold" text-anchor="end">14/7</text>
<text transform="translate(522.9 549.8) rotate(-45) scale(0.88 1)" font-size="17.5" font-weight="bold" text-anchor="end">15/5</text>
<text transform="translate(557.5 549.8) rotate(-45) scale(0.88 1)" font-size="17.5" font-weight="bold" text-anchor="end">16/3</text>
<path d="M190.8,481.6 L191.5,480.5 L192.3,477.9 L192.5,478.7 L193.3,475.9 L194.1,475.2 L194.3,474.0 L194.6,471.9 L194.9,472.6 L195.2,471.0 L195.6,468.0 L196.1,468.1 L197.0,466.7 L198.6,467.8 L199.7,468.9 L200.7,468.0 L201.5,466.7 L202.5,466.1 L203.8,462.9 L204.3,462.2 L205.9,463.7 L206.8,464.3 L207.8,465.4 L208.8,466.9 L210.0,466.9 L211.1,466.1 L212.2,465.5 L212.9,464.5 L213.7,467.9 L214.5,468.1 L215.2,468.4 L216.0,468.3 L216.4,465.9 L217.5,467.3 L217.7,465.8 L218.6,463.1 L219.3,463.6 L220.9,460.5 L221.9,459.3 L222.2,458.8 L222.5,459.2 L222.4,458.1 L222.5,454.4 L222.8,453.1 L222.8,452.8 L223.2,450.9 L223.6,451.8 L224.5,451.1 L225.7,448.7 L226.2,448.1 L227.5,449.2 L228.7,450.1 L230.2,450.6 L231.4,451.8 L232.9,451.3 L233.7,450.6 L233.9,448.1 L234.2,448.3 L234.4,447.2 L235.2,444.5 L235.6,444.3 L236.8,444.8 L238.1,446.7 L238.9,445.7 L239.8,446.8 L240.1,444.3 L240.8,442.7 L241.2,441.4 L241.8,440.9 L242.3,439.1 L243.1,437.0 L243.4,437.6 L243.8,435.0 L244.6,433.8 L244.7,433.1 L245.5,431.0 L245.4,430.3 L245.8,429.4 L245.9,427.4 L245.6,427.5 L246.1,425.7 L245.7,423.6 L246.0,422.5 L246.7,423.0 L246.9,420.3 L247.8,420.0 L248.3,418.0 L248.4,416.6 L249.4,415.3 L249.6,414.5 L249.9,415.7 L250.5,416.3 L250.2,419.6 L250.9,420.9 L250.9,422.0 L251.5,421.4 L251.6,424.2 L251.8,424.6 L251.8,425.4 L252.0,425.9 L252.7,427.7 L253.2,428.4 L253.7,431.3 L254.1,433.0 L254.5,433.4 L254.4,435.1 L254.7,435.2 L255.2,437.0 L255.3,439.3 L255.7,439.0 L255.7,441.6 L256.0,442.6 L256.2,442.4 L256.5,445.2 L256.7,446.4 L257.6,447.7 L257.9,446.8 L258.2,450.3 L258.3,450.0 L258.9,451.9 L259.1,453.0 L259.5,453.0 L259.2,454.5 L259.4,455.6 L260.1,458.9 L259.7,459.2 L260.0,460.0 L260.1,462.1 L260.3,462.6 L260.0,463.7 L260.0,465.6 L260.4,466.3 L260.0,467.1 L260.2,469.4 L260.4,470.1 L260.4,471.9 L260.2,472.5 L260.2,474.6 L260.2,475.8 L260.2,475.9 L260.3,478.3 L260.0,478.8 L260.2,481.2 L260.5,481.2 L260.5,483.5 L260.1,483.9 L260.0,486.0 L260.3,487.5 L260.8,488.1 L261.1,489.1 L261.1,490.4 L261.4,490.5 L262.3,491.4 L261.9,492.8 L262.5,494.3 L262.0,497.2 L262.2,498.5 L262.6,499.7 L262.8,500.3 L262.8,500.1 L262.9,502.6 L263.5,502.7 L264.1,506.1 L264.3,505.8 L265.2,508.3 L265.2,505.4 L265.4,505.3 L265.9,503.5 L265.9,502.3 L266.1,501.1 L266.2,500.1 L267.9,501.1 L269.0,501.6 L269.2,502.0 L269.3,500.1 L269.4,499.2 L269.8,496.7 L269.5,497.0 L270.2,495.2 L270.1,494.4 L270.6,492.0 L271.2,491.6 L271.9,489.5 L272.7,490.1 L273.1,488.2 L273.9,489.5 L274.8,488.9 L275.4,489.2 L276.3,491.1 L276.7,489.8 L277.4,489.6 L278.0,489.0 L278.8,486.7 L279.4,486.1 L280.2,484.1 L281.3,485.8 L282.7,486.2 L283.3,486.4 L283.7,483.3 L284.2,483.3 L285.1,482.7 L285.8,479.6 L286.0,478.4 L286.3,478.3 L287.0,477.6 L286.9,476.3 L287.2,473.9 L287.7,471.8 L287.6,472.5 L287.9,470.0 L288.7,472.1 L289.0,472.4 L289.9,474.0 L290.4,475.5 L291.4,476.3 L291.5,474.3 L291.7,474.5 L292.0,473.8 L292.8,470.6 L293.2,470.0 L293.4,469.8 L293.5,468.3 L295.3,469.3 L296.6,469.8 L297.8,470.8 L298.3,470.6 L299.0,472.5 L299.9,474.5 L300.1,472.0 L300.4,471.9 L300.4,471.4 L301.0,468.1 L301.4,467.0 L301.3,467.2 L301.7,465.6 L301.5,466.5 L301.1,467.0 L300.7,469.7 L300.9,470.5 L300.6,471.2 L300.1,472.5 L300.2,472.9 L300.4,472.2 L300.9,471.2 L301.0,470.1 L301.4,469.8 L301.7,468.8 L301.9,466.1 L302.2,464.4 L303.2,464.8 L303.3,462.1 L304.0,462.3 L304.7,461.1 L305.1,458.3 L305.5,457.2 L306.0,459.4 L306.1,459.8 L306.8,460.5 L307.2,464.0 L307.7,463.9 L307.9,463.2 L308.3,462.9 L308.8,459.9 L309.3,459.2 L309.5,458.6 L309.6,457.5 L310.5,458.0 L311.0,459.1 L311.3,460.5 L311.7,461.7 L312.6,462.8 L313.1,465.4 L313.8,464.5 L314.3,464.5 L314.3,462.6 L314.9,460.6 L315.6,461.6 L316.0,460.2 L317.4,458.7 L318.8,460.3 L320.1,461.0 L320.6,458.8 L321.2,459.1 L321.9,456.6 L322.4,455.5 L322.7,453.1 L322.8,454.7 L323.0,456.7 L323.4,458.1 L323.4,459.6 L323.5,460.4 L323.9,461.4 L323.7,464.0 L324.2,463.8 L324.1,465.5 L324.4,465.9 L324.2,467.1 L324.8,468.2 L324.7,469.6 L325.4,468.3 L326.3,467.0 L326.9,465.6 L327.6,467.9 L328.2,467.9 L329.0,470.1 L329.8,470.4 L330.1,470.1 L330.4,470.3 L331.1,466.8 L331.7,465.8 L332.3,465.0 L332.6,463.0 L334.0,464.4 L335.0,465.7 L336.1,466.1 L337.0,465.4 L338.5,465.8 L338.4,463.1 L338.8,464.2 L338.9,460.4 L338.8,459.4 L339.0,458.0 L339.1,458.4 L339.8,456.0 L341.1,455.9 L342.2,456.2 L343.6,453.1 L343.8,453.3 L344.8,450.7 L345.0,451.5 L345.5,449.0 L346.4,448.9 L347.6,446.6 L348.2,447.2 L349.1,445.8 L349.9,446.2 L350.4,446.8 L351.4,448.4 L351.8,448.5 L352.9,448.4 L353.7,446.6 L354.4,444.7 L354.6,443.1 L354.4,443.8 L354.5,440.9 L354.3,441.6 L354.5,440.4 L354.7,438.1 L354.7,437.6 L355.2,435.4 L355.8,434.2 L357.2,432.2 L358.5,431.6 L359.8,432.4 L360.2,429.6 L360.5,429.9 L361.2,427.0 L361.3,428.3 L361.7,426.0 L362.0,427.8 L362.3,429.1 L362.4,428.7 L362.4,429.7 L363.0,431.0 L362.7,434.5 L363.0,435.5 L363.1,435.6 L363.4,437.8 L363.8,438.6 L365.4,439.2 L366.7,438.5 L366.9,438.4 L367.3,440.9 L367.4,441.1 L367.4,443.1 L367.6,443.3 L367.5,445.6 L367.5,447.0 L368.0,447.9 L368.1,449.6 L368.2,447.7 L369.0,446.4 L369.0,444.5 L369.2,443.5 L370.0,443.7 L370.3,443.2 L370.5,441.8 L370.8,439.2 L371.3,439.2 L371.7,436.9 L371.9,435.5 L372.2,438.1 L372.0,439.3 L372.1,438.4 L372.6,440.1 L372.7,442.3 L372.5,443.8 L372.9,444.2 L373.5,443.8 L374.4,441.4 L374.6,440.2 L375.4,438.3 L375.9,438.9 L376.8,438.2 L377.2,439.2 L377.0,438.6 L377.2,440.6 L377.5,442.0 L377.7,444.1 L377.8,444.3 L378.4,446.4 L378.2,446.2 L378.7,446.8 L379.7,448.2 L381.4,447.2 L382.5,447.3 L384.3,448.0 L385.7,447.6 L386.9,444.4 L387.0,443.1 L387.8,442.7 L388.2,442.0 L388.8,440.2 L389.5,440.2 L390.4,437.9 L391.0,437.4 L392.1,437.1 L393.0,436.5 L393.0,433.5 L393.7,434.0 L394.0,432.9 L394.4,430.2 L394.5,428.3 L395.2,429.3 L395.7,427.0 L396.0,426.9 L397.1,426.9 L397.9,427.5 L398.8,427.5 L399.7,430.6 L400.2,430.1 L400.7,431.3 L401.6,432.3 L402.3,432.6 L402.6,434.5 L402.6,436.6 L402.9,438.1 L402.8,437.0 L402.7,439.6 L402.7,440.1 L402.8,443.0 L402.4,443.6 L402.6,444.4 L403.4,446.8 L403.7,446.1 L404.3,447.3 L404.5,450.2 L404.9,450.0 L405.7,453.0 L405.8,452.8 L406.3,453.3 L406.3,456.8 L406.3,456.1 L406.4,456.9 L406.7,459.9 L407.0,460.8 L407.1,460.4 L406.8,464.1 L406.8,463.6 L407.3,462.3 L407.7,460.5 L407.8,461.7 L408.0,460.3 L408.4,459.3 L409.0,457.1 L409.0,454.4 L409.6,453.4 L410.1,453.9 L411.4,450.6 L412.2,450.7 L412.0,448.3 L412.1,449.4 L412.1,445.9 L412.1,444.7 L412.3,445.5 L412.2,442.3 L412.8,443.2 L412.9,440.0 L413.2,440.9 L414.1,439.2 L414.7,436.5 L415.5,437.4 L416.5,435.9 L416.6,437.1 L416.8,438.3 L417.4,438.7 L417.5,441.8 L418.9,439.4 L420.2,440.7 L421.0,438.8 L422.2,438.6 L423.9,439.8 L425.1,439.4 L425.8,441.6 L427.5,441.1 L428.7,439.1 L430.0,437.1 L430.3,436.8 L430.5,436.0 L431.1,434.5 L431.5,432.8 L432.0,432.3 L432.8,431.9 L433.2,430.4 L433.1,432.0 L433.3,431.0 L433.7,433.9 L433.9,434.9 L434.1,436.9 L434.5,436.9 L434.8,439.2 L435.7,439.5 L436.0,441.0 L436.4,441.7 L437.5,443.9 L437.4,445.3 L438.1,446.9 L438.5,446.1 L439.1,449.1 L439.4,450.3 L440.0,450.2 L440.2,451.8 L441.1,450.5 L442.0,450.9 L442.7,448.1 L443.3,447.8 L444.8,447.2 L445.7,447.6 L447.0,446.9 L447.8,448.0 L448.4,446.2 L449.2,445.3 L449.9,443.0 L451.0,443.4 L452.3,445.3 L452.5,445.4 L452.8,442.3 L453.5,442.2 L453.5,439.4 L454.1,438.2 L454.8,437.4 L455.1,439.0 L455.8,440.1 L456.5,441.8 L457.0,441.4 L458.0,444.0 L458.1,444.4 L459.1,446.9 L459.3,443.1 L460.1,442.9 L461.0,442.8 L461.3,440.5 L462.5,440.8 L463.3,438.7 L464.2,438.6 L465.0,438.4 L466.0,436.5 L466.6,434.7 L467.6,435.4 L468.1,435.2 L468.9,437.4 L469.1,437.4 L469.4,440.5 L469.8,440.8 L471.6,440.3 L473.1,441.7 L474.6,441.3 L475.4,439.2 L476.8,439.6 L477.9,440.7 L479.2,440.3 L480.8,438.1 L482.1,438.5 L482.9,437.7 L484.0,438.2 L485.4,438.3 L487.0,435.4 L487.9,435.4 L488.6,436.3 L489.5,438.7 L490.4,438.4 L490.8,440.5 L491.5,441.2 L492.1,442.4 L492.5,444.7 L492.7,446.3 L493.9,446.7 L495.0,447.9 L495.9,447.4 L497.1,450.5 L497.9,450.8 L497.8,452.8 L498.0,452.3 L498.1,455.5 L497.8,456.8 L497.9,455.9 L498.0,457.6 L498.0,459.4 L498.3,460.3 L499.3,461.2 L499.8,463.3 L500.3,463.3 L501.0,465.2 L501.4,464.4 L503.0,466.8 L504.0,468.9 L504.4,469.2 L504.7,471.2 L504.7,471.1 L504.4,473.3 L504.9,473.7 L504.9,475.5 L504.9,477.1 L505.3,477.5 L505.1,479.2 L505.4,480.8 L505.4,481.2 L505.6,482.5 L506.0,483.0 L506.1,485.2 L506.6,486.5 L507.1,486.6 L507.7,490.0 L508.4,490.2 L508.5,490.3 L508.9,492.2 L509.9,490.4 L510.5,490.1 L510.8,488.3 L511.8,486.9 L511.7,486.5 L511.6,484.5 L512.3,484.7 L512.3,483.8 L512.0,482.0 L512.6,479.5 L512.6,480.3 L512.6,478.5 L513.8,479.0 L515.1,479.5 L516.4,481.2 L517.3,479.3 L518.0,478.1 L518.9,476.7 L519.4,476.5 L520.1,474.1 L521.2,475.3 L522.5,475.2 L523.9,475.3 L524.8,475.7 L525.3,474.9 L526.1,477.7 L527.1,477.3 L527.4,480.3 L528.0,480.2 L528.3,480.6 L528.5,483.2 L528.9,483.1 L529.5,485.3 L530.8,485.0 L531.1,485.9 L532.5,487.6 L533.1,490.2 L534.3,487.7 L535.3,486.4 L536.1,487.6 L537.1,485.2 L538.4,485.4 L539.7,484.2 L540.8,485.2 L542.0,485.7 L543.2,485.7 L544.2,486.3 L545.3,487.0 L545.7,488.1 L546.4,488.8 L547.5,490.3 L547.7,490.9 L547.6,491.4 L548.0,493.1 L548.4,494.5 L548.7,496.6 L548.9,498.2 L549.1,498.6 L549.2,498.9 L551.0,500.7 L552.1,502.4 L552.9,500.4 L553.4,497.8 L554.2,496.7 L554.4,497.6 L554.7,495.1 L555.5,493.2 L557.0,492.8 L557.6,492.2 L558.9,491.9 L560.6,492.0 L561.4,490.9 L562.8,489.9 L564.1,489.5" fill="none" stroke="#ff0000" stroke-width="3.8" stroke-linejoin="round" stroke-linecap="round" />
<line x1="259" y1="372.8" x2="297.5" y2="372.8" stroke="#f00" stroke-width="3.5" stroke-linecap="round"/>
<text x="303.5" y="372.8" font-size="15" dominant-baseline="central" font-family="Liberation Sans" fill="#222" textLength="239.5" lengthAdjust="spacingAndGlyphs">国际石脑油 新加坡（美元/桶）</text>
<rect x="625" y="346" width="444" height="252" fill="#fff"/>
<line x1="691" y1="394" x2="1030" y2="394" stroke="#000" stroke-width="1.8" stroke-dasharray="4.1 2"/>
<line x1="691" y1="440.3" x2="1030" y2="440.3" stroke="#000" stroke-width="1.8" stroke-dasharray="4.1 2"/>
<line x1="691" y1="486.8" x2="1030" y2="486.8" stroke="#000" stroke-width="1.8" stroke-dasharray="4.1 2"/>
<line x1="691" y1="393" x2="691" y2="534.8" stroke="#000" stroke-width="1.8"/>
<line x1="690" y1="533.8" x2="1030" y2="533.8" stroke="#000" stroke-width="1.8"/>
<line x1="720.2" y1="528.8" x2="720.2" y2="533.8" stroke="#000" stroke-width="1.5"/>
<line x1="749.3" y1="528.8" x2="749.3" y2="533.8" stroke="#000" stroke-width="1.5"/>
<line x1="780.3" y1="528.8" x2="780.3" y2="533.8" stroke="#000" stroke-width="1.5"/>
<line x1="809.3" y1="528.8" x2="809.3" y2="533.8" stroke="#000" stroke-width="1.5"/>
<line x1="840.6" y1="528.8" x2="840.6" y2="533.8" stroke="#000" stroke-width="1.5"/>
<line x1="869.7" y1="528.8" x2="869.7" y2="533.8" stroke="#000" stroke-width="1.5"/>
<line x1="900.7" y1="528.8" x2="900.7" y2="533.8" stroke="#000" stroke-width="1.5"/>
<line x1="930" y1="528.8" x2="930" y2="533.8" stroke="#000" stroke-width="1.5"/>
<line x1="959.4" y1="528.8" x2="959.4" y2="533.8" stroke="#000" stroke-width="1.5"/>
<line x1="989.8" y1="528.8" x2="989.8" y2="533.8" stroke="#000" stroke-width="1.5"/>
<line x1="1019.3" y1="528.8" x2="1019.3" y2="533.8" stroke="#000" stroke-width="1.5"/>
<text transform="translate(677 394) scale(0.83 1)" font-size="19.2" font-weight="bold" text-anchor="end" dominant-baseline="central">12000</text>
<text transform="translate(677 440.3) scale(0.83 1)" font-size="19.2" font-weight="bold" text-anchor="end" dominant-baseline="central">8000</text>
<text transform="translate(677 486.8) scale(0.83 1)" font-size="19.2" font-weight="bold" text-anchor="end" dominant-baseline="central">4000</text>
<text transform="translate(677 535) scale(0.83 1)" font-size="19.2" font-weight="bold" text-anchor="end" dominant-baseline="central">0</text>
<text transform="translate(692.7 554.3) rotate(-45) scale(0.88 1)" font-size="16.8" font-weight="bold" text-anchor="end">07/1</text>
<text transform="translate(722.0 554.3) rotate(-45) scale(0.88 1)" font-size="16.8" font-weight="bold" text-anchor="end">07/11</text>
<text transform="translate(751.1 554.3) rotate(-45) scale(0.88 1)" font-size="16.8" font-weight="bold" text-anchor="end">08/9</text>
<text transform="translate(782.1 554.3) rotate(-45) scale(0.88 1)" font-size="16.8" font-weight="bold" text-anchor="end">09/7</text>
<text transform="translate(811.1 554.3) rotate(-45) scale(0.88 1)" font-size="16.8" font-weight="bold" text-anchor="end">10/5</text>
<text transform="translate(842.4 554.3) rotate(-45) scale(0.88 1)" font-size="16.8" font-weight="bold" text-anchor="end">11/3</text>
<text transform="translate(871.5 554.3) rotate(-45) scale(0.88 1)" font-size="16.8" font-weight="bold" text-anchor="end">12/1</text>
<text transform="translate(902.5 554.3) rotate(-45) scale(0.88 1)" font-size="16.8" font-weight="bold" text-anchor="end">12/11</text>
<text transform="translate(931.8 554.3) rotate(-45) scale(0.88 1)" font-size="16.8" font-weight="bold" text-anchor="end">13/9</text>
<text transform="translate(961.2 554.3) rotate(-45) scale(0.88 1)" font-size="16.8" font-weight="bold" text-anchor="end">14/7</text>
<text transform="translate(991.6 554.3) rotate(-45) scale(0.88 1)" font-size="16.8" font-weight="bold" text-anchor="end">15/5</text>
<text transform="translate(1021.1 554.3) rotate(-45) scale(0.88 1)" font-size="16.8" font-weight="bold" text-anchor="end">16/3</text>
<path d="M691.0,471.1 L691.9,472.1 L692.5,473.2 L693.8,474.4 L694.5,475.0 L695.0,474.0 L695.4,472.8 L696.1,472.2 L697.7,471.9 L699.0,471.2 L698.7,470.0 L698.9,468.7 L699.0,466.8 L698.9,465.7 L700.1,465.4 L701.3,465.3 L701.8,464.3 L701.8,462.5 L702.2,461.2 L703.3,460.5 L704.1,459.4 L705.2,458.5 L705.8,459.3 L707.1,460.0 L707.5,461.2 L708.9,460.7 L710.3,460.2 L711.9,459.7 L712.4,460.9 L713.4,462.3 L714.1,463.8 L715.3,463.1 L716.9,462.2 L717.7,461.3 L719.4,460.5 L719.3,459.1 L719.5,457.9 L719.6,456.8 L721.4,456.9 L722.6,456.9 L722.2,455.2 L722.7,454.2 L722.4,453.1 L722.5,451.7 L722.3,450.1 L722.4,448.7 L722.4,448.0 L723.9,447.0 L725.2,446.6 L727.1,446.3 L728.1,446.8 L729.8,447.6 L730.6,448.1 L732.1,448.8 L734.1,449.4 L734.3,448.5 L735.1,447.8 L735.7,446.4 L737.3,445.9 L738.7,445.4 L739.6,444.9 L740.7,444.4 L741.0,443.3 L741.4,441.7 L741.0,440.2 L741.3,438.8 L741.4,437.8 L741.4,435.9 L743.2,436.2 L744.5,436.1 L744.4,435.0 L744.4,433.8 L744.2,432.1 L744.0,431.3 L744.4,430.0 L744.1,428.6 L744.4,427.3 L746.0,427.2 L747.5,427.3 L747.6,426.2 L748.3,424.4 L749.6,424.9 L750.7,424.4 L750.9,425.7 L751.0,427.2 L750.5,428.1 L750.9,429.6 L751.0,431.0 L750.8,431.7 L751.2,432.9 L751.3,434.2 L751.3,435.9 L751.4,436.9 L751.4,438.0 L751.3,439.3 L753.4,439.5 L753.1,440.7 L752.9,441.6 L753.2,443.2 L753.4,444.6 L752.9,445.7 L753.3,447.1 L752.9,448.5 L753.4,449.4 L753.2,450.8 L754.6,450.8 L755.6,450.9 L756.0,451.9 L755.5,453.4 L756.0,454.6 L755.7,456.0 L755.9,456.8 L755.9,458.1 L755.6,459.7 L755.7,460.9 L755.5,462.1 L755.5,462.9 L755.7,464.3 L755.7,465.8 L755.8,466.5 L755.6,468.1 L755.7,469.4 L755.7,470.2 L755.6,471.9 L755.6,473.1 L756.0,474.3 L755.8,475.5 L755.6,476.9 L755.7,478.1 L755.6,479.3 L755.9,480.4 L757.3,480.1 L759.1,480.2 L759.0,481.3 L758.7,482.5 L759.1,483.8 L759.2,485.1 L759.0,486.3 L759.0,487.4 L758.9,489.1 L758.7,490.1 L758.8,491.2 L758.6,492.2 L759.2,493.9 L759.1,495.1 L759.2,495.9 L759.0,497.4 L759.0,498.8 L759.1,500.1 L758.7,501.1 L759.0,502.4 L759.0,503.7 L758.8,504.9 L758.9,505.9 L760.6,506.2 L761.8,506.2 L763.3,506.6 L764.1,505.5 L764.2,503.9 L764.9,502.6 L766.2,502.1 L767.7,502.1 L768.0,500.7 L767.8,499.4 L767.9,497.5 L767.6,496.6 L769.6,496.5 L770.8,496.2 L771.9,496.2 L773.5,496.6 L773.9,495.0 L773.4,493.3 L773.5,492.2 L773.4,490.7 L775.2,490.2 L776.8,489.8 L778.0,489.4 L779.1,489.0 L779.3,487.8 L779.1,487.0 L779.3,485.7 L779.5,484.3 L779.5,483.1 L779.6,481.7 L779.4,480.4 L779.5,479.1 L780.7,479.0 L782.2,479.3 L783.0,479.3 L784.7,479.5 L784.6,478.5 L785.0,477.0 L784.9,475.8 L784.9,474.8 L786.5,474.8 L788.1,474.3 L789.8,475.7 L790.7,476.5 L792.4,476.6 L793.7,476.7 L795.7,476.6 L795.6,475.5 L795.3,474.1 L795.6,472.7 L795.1,471.4 L795.6,470.0 L795.5,469.0 L797.0,468.2 L798.7,468.0 L800.1,467.6 L801.0,467.1 L802.5,466.1 L803.8,466.3 L805.0,466.0 L806.1,465.7 L807.3,465.3 L808.7,464.9 L809.4,464.8 L810.9,464.3 L812.1,465.0 L812.9,465.7 L814.4,467.0 L815.5,467.3 L815.9,469.0 L815.8,469.8 L816.2,471.4 L817.2,471.7 L818.4,472.4 L819.3,473.1 L820.4,474.1 L821.6,473.3 L822.3,472.2 L823.4,471.2 L824.3,471.0 L826.1,470.3 L827.4,469.5 L827.9,468.3 L827.9,466.7 L827.9,465.8 L829.5,464.6 L830.4,463.8 L831.4,463.2 L832.5,462.5 L833.8,461.8 L833.6,460.1 L833.8,459.0 L833.7,457.4 L834.9,457.4 L836.3,456.6 L837.6,456.9 L839.0,456.1 L840.0,454.8 L841.0,454.2 L842.5,453.2 L842.2,452.2 L842.2,450.9 L842.5,449.3 L842.8,448.1 L842.6,446.6 L844.3,445.9 L845.8,445.3 L846.5,443.3 L847.1,441.8 L848.2,443.0 L849.3,443.4 L850.5,444.1 L851.0,445.4 L851.7,446.7 L851.9,447.8 L852.1,449.7 L853.4,449.8 L854.6,449.4 L856.1,449.6 L858.2,450.9 L859.6,451.2 L861.4,451.5 L862.4,451.3 L862.7,452.6 L863.0,453.9 L863.2,455.3 L863.2,456.8 L864.9,456.9 L865.8,457.9 L867.0,457.8 L868.3,458.8 L869.9,458.2 L871.0,457.0 L872.2,457.2 L873.5,456.6 L874.8,456.6 L875.2,455.1 L875.5,453.4 L876.3,452.3 L876.2,450.5 L876.2,449.4 L876.7,447.9 L876.9,446.5 L876.6,445.2 L878.1,444.9 L879.4,444.2 L879.9,443.1 L880.4,441.0 L881.7,441.8 L883.1,442.5 L884.5,443.0 L885.6,444.0 L885.7,445.4 L886.0,446.3 L885.6,447.7 L885.7,448.9 L885.9,450.1 L885.7,451.3 L885.9,452.9 L886.0,453.9 L885.8,455.4 L886.7,455.6 L888.5,455.1 L888.6,456.8 L888.5,457.9 L888.3,458.9 L888.5,460.7 L888.4,461.7 L888.5,463.1 L889.0,464.5 L888.7,465.5 L888.5,466.9 L889.1,468.4 L889.9,468.1 L891.2,468.1 L891.9,466.7 L892.0,465.9 L892.1,464.1 L892.4,463.3 L893.7,462.1 L894.4,461.6 L894.7,460.4 L894.4,459.3 L894.8,458.0 L894.7,456.7 L894.8,455.1 L894.6,453.9 L895.7,454.2 L897.1,454.0 L897.5,452.6 L897.8,451.2 L898.2,449.9 L899.6,450.2 L901.1,450.4 L902.2,450.8 L903.1,452.0 L903.6,452.9 L904.3,453.9 L905.5,453.2 L906.8,452.2 L908.1,452.0 L909.7,452.3 L910.8,452.4 L911.9,452.1 L912.0,450.8 L912.2,449.5 L912.4,448.3 L913.7,448.6 L915.2,448.9 L915.5,450.4 L915.4,451.7 L915.4,452.6 L916.1,453.8 L917.4,454.9 L917.4,456.1 L917.7,457.1 L917.5,458.8 L917.6,459.7 L917.3,458.7 L916.9,457.0 L916.8,455.8 L916.0,454.4 L917.0,456.2 L917.3,457.7 L917.8,459.1 L918.7,459.9 L919.8,460.4 L921.6,461.2 L922.8,461.4 L924.2,461.3 L925.6,460.9 L927.1,460.9 L927.2,459.7 L927.6,458.5 L929.2,458.6 L930.6,458.1 L931.7,458.3 L932.8,458.2 L934.0,456.9 L935.7,456.9 L936.9,456.8 L938.0,456.8 L939.2,455.4 L940.0,454.3 L941.7,454.0 L941.9,452.7 L942.6,451.0 L943.6,451.0 L945.0,451.7 L945.2,452.8 L945.4,454.3 L945.5,455.6 L946.7,455.5 L948.4,455.3 L949.7,455.2 L950.6,455.3 L952.0,455.5 L953.4,455.5 L954.9,454.2 L956.1,453.7 L957.5,452.9 L958.2,452.2 L959.5,451.7 L960.7,451.0 L961.8,451.1 L963.0,451.3 L964.3,451.6 L965.2,452.4 L965.9,453.5 L965.6,455.2 L966.2,456.3 L966.4,458.1 L967.5,458.4 L968.5,458.9 L969.3,460.6 L970.1,461.6 L972.1,461.5 L972.0,463.0 L971.6,464.4 L972.1,465.8 L971.6,467.4 L971.8,468.8 L973.3,469.2 L974.7,469.3 L974.6,470.4 L974.5,471.6 L974.9,472.9 L974.9,474.5 L974.8,475.3 L974.8,476.6 L975.0,477.6 L975.3,479.1 L976.6,479.6 L977.8,479.9 L977.8,480.9 L977.9,482.5 L977.4,483.3 L977.5,484.8 L977.9,486.1 L977.9,487.3 L977.7,488.5 L977.8,489.8 L977.4,491.1 L977.7,492.7 L977.6,494.0 L979.2,493.5 L980.4,494.0 L980.7,495.1 L980.5,496.3 L980.8,497.6 L980.7,499.1 L982.2,498.9 L983.3,499.2 L983.4,497.9 L983.5,496.6 L983.6,495.5 L983.3,494.1 L983.5,492.4 L983.7,490.9 L985.0,490.6 L986.4,489.9 L988.1,489.2 L989.3,489.1 L990.7,489.5 L991.4,489.4 L992.7,489.0 L993.9,489.4 L995.3,489.3 L996.3,489.1 L997.6,489.3 L999.1,489.2 L1000.1,489.5 L1001.5,489.4 L1002.8,489.3 L1002.7,490.3 L1003.1,492.0 L1003.4,493.3 L1003.4,494.4 L1003.9,495.4 L1003.7,497.0 L1004.0,498.3 L1004.0,499.5 L1004.2,500.7 L1004.4,501.9 L1006.5,502.0 L1006.6,500.8 L1007.2,499.4 L1007.3,498.2 L1007.9,496.7 L1009.3,496.2 L1011.0,495.9 L1012.4,495.4 L1013.1,496.8 L1014.1,498.4 L1014.6,499.2 L1016.8,500.7 L1016.9,502.1 L1017.3,503.7 L1017.6,504.9 L1018.0,506.8 L1019.4,506.7 L1020.8,506.5 L1021.7,506.7 L1021.8,505.4 L1022.0,504.0 L1022.5,502.9 L1023.5,502.5 L1025.2,501.8 L1025.8,500.6 L1026.4,499.8 L1027.6,498.8 L1029.5,498.2" fill="none" stroke="#ff0000" stroke-width="3.4" stroke-linejoin="round" stroke-linecap="round" />
<line x1="719" y1="371.1" x2="758" y2="371.1" stroke="#f00" stroke-width="3.5" stroke-linecap="round"/>
<text x="763.5" y="371.1" font-size="15" dominant-baseline="central" font-family="Liberation Sans" fill="#222" textLength="243.5" lengthAdjust="spacingAndGlyphs">国内石脑油 中石化出厂（元/吨）</text>
<rect x="135" y="658" width="467" height="226" fill="#fff"/>
<line x1="200.6" y1="701.5" x2="569" y2="701.5" stroke="#000" stroke-width="1.8" stroke-dasharray="4.1 2"/>
<line x1="200.6" y1="742.4" x2="569" y2="742.4" stroke="#000" stroke-width="1.8" stroke-dasharray="4.1 2"/>
<line x1="200.6" y1="783.6" x2="569" y2="783.6" stroke="#000" stroke-width="1.8" stroke-dasharray="4.1 2"/>
<line x1="200.6" y1="700.5" x2="200.6" y2="827.4" stroke="#000" stroke-width="1.8"/>
<line x1="199.6" y1="826.4" x2="569" y2="826.4" stroke="#000" stroke-width="1.8"/>
<line x1="232.2" y1="821.4" x2="232.2" y2="826.4" stroke="#000" stroke-width="1.5"/>
<line x1="265.1" y1="821.4" x2="265.1" y2="826.4" stroke="#000" stroke-width="1.5"/>
<line x1="296.6" y1="821.4" x2="296.6" y2="826.4" stroke="#000" stroke-width="1.5"/>
<line x1="330" y1="821.4" x2="330" y2="826.4" stroke="#000" stroke-width="1.5"/>
<line x1="362.9" y1="821.4" x2="362.9" y2="826.4" stroke="#000" stroke-width="1.5"/>
<line x1="394.7" y1="821.4" x2="394.7" y2="826.4" stroke="#000" stroke-width="1.5"/>
<line x1="427.8" y1="821.4" x2="427.8" y2="826.4" stroke="#000" stroke-width="1.5"/>
<line x1="461" y1="821.4" x2="461" y2="826.4" stroke="#000" stroke-width="1.5"/>
<line x1="492.6" y1="821.4" x2="492.6" y2="826.4" stroke="#000" stroke-width="1.5"/>
<line x1="525.4" y1="821.4" x2="525.4" y2="826.4" stroke="#000" stroke-width="1.5"/>
<line x1="558.5" y1="821.4" x2="558.5" y2="826.4" stroke="#000" stroke-width="1.5"/>
<text transform="translate(186.5 702) scale(0.92 1)" font-size="17.7" font-weight="bold" text-anchor="end" dominant-baseline="central">11000</text>
<text transform="translate(186.5 742.6) scale(0.92 1)" font-size="17.7" font-weight="bold" text-anchor="end" dominant-baseline="central">8000</text>
<text transform="translate(186.5 784) scale(0.92 1)" font-size="17.7" font-weight="bold" text-anchor="end" dominant-baseline="central">5000</text>
<text transform="translate(186.5 827) scale(0.92 1)" font-size="17.7" font-weight="bold" text-anchor="end" dominant-baseline="central">2000</text>
<text transform="translate(203.7 847.9) rotate(-45) scale(0.88 1)" font-size="17.5" font-weight="bold" text-anchor="end">07/1</text>
<text transform="translate(235.4 847.9) rotate(-45) scale(0.88 1)" font-size="17.5" font-weight="bold" text-anchor="end">07/11</text>
<text transform="translate(268.3 847.9) rotate(-45) scale(0.88 1)" font-size="17.5" font-weight="bold" text-anchor="end">08/9</text>
<text transform="translate(299.8 847.9) rotate(-45) scale(0.88 1)" font-size="17.5" font-weight="bold" text-anchor="end">09/7</text>
<text transform="translate(333.2 847.9) rotate(-45) scale(0.88 1)" font-size="17.5" font-weight="bold" text-anchor="end">10/5</text>
<text transform="translate(366.1 847.9) rotate(-45) scale(0.88 1)" font-size="17.5" font-weight="bold" text-anchor="end">11/3</text>
<text transform="translate(397.9 847.9) rotate(-45) scale(0.88 1)" font-size="17.5" font-weight="bold" text-anchor="end">12/1</text>
<text transform="translate(431.0 847.9) rotate(-45) scale(0.88 1)" font-size="17.5" font-weight="bold" text-anchor="end">12/11</text>
<text transform="translate(464.2 847.9) rotate(-45) scale(0.88 1)" font-size="17.5" font-weight="bold" text-anchor="end">13/9</text>
<text transform="translate(495.8 847.9) rotate(-45) scale(0.88 1)" font-size="17.5" font-weight="bold" text-anchor="end">14/7</text>
<text transform="translate(528.6 847.9) rotate(-45) scale(0.88 1)" font-size="17.5" font-weight="bold" text-anchor="end">15/5</text>
<text transform="translate(561.7 847.9) rotate(-45) scale(0.88 1)" font-size="17.5" font-weight="bold" text-anchor="end">16/3</text>
<path d="M200.3,722.6 L200.6,721.6 L200.8,720.3 L200.6,718.5 L201.4,717.4 L201.6,715.5 L201.4,716.9 L201.6,718.5 L201.4,719.3 L201.6,721.3 L202.0,721.6 L202.2,722.8 L202.2,724.0 L201.9,726.1 L202.1,726.5 L202.7,728.5 L202.4,729.8 L203.4,728.3 L204.1,727.5 L205.5,726.7 L206.8,725.2 L207.6,724.2 L209.2,724.4 L211.1,725.4 L211.9,724.7 L213.2,723.6 L214.5,723.1 L215.2,722.4 L216.5,721.2 L217.1,722.3 L217.4,724.5 L217.5,725.6 L218.1,726.5 L218.4,727.0 L220.0,728.5 L221.6,728.6 L223.6,729.2 L224.0,729.5 L224.9,730.9 L225.4,731.9 L227.1,732.0 L228.0,732.1 L229.4,731.4 L231.2,732.9 L232.4,733.8 L233.7,732.1 L234.7,731.0 L235.7,730.0 L236.8,732.0 L237.2,731.9 L238.5,733.5 L238.8,734.2 L240.4,734.9 L241.8,734.4 L243.0,735.0 L244.4,734.5 L245.4,732.9 L246.0,732.7 L246.5,731.3 L247.6,730.6 L249.1,730.8 L250.6,730.1 L252.5,730.3 L252.5,728.5 L252.2,727.5 L252.2,725.7 L252.1,724.2 L253.5,724.7 L255.3,723.6 L255.1,722.0 L254.8,720.7 L255.2,720.2 L255.0,718.8 L255.2,717.5 L255.2,716.3 L255.0,715.0 L254.9,713.5 L255.2,712.5 L254.9,711.5 L255.1,709.8 L254.8,708.5 L256.3,708.7 L257.7,708.9 L259.2,708.8 L260.0,709.6 L261.2,710.8 L261.9,711.8 L263.4,712.2 L263.4,713.7 L263.2,714.5 L262.9,716.1 L263.4,716.9 L263.3,718.5 L263.3,719.1 L264.5,720.7 L264.4,721.8 L264.4,723.6 L264.4,724.8 L264.0,725.5 L264.3,727.4 L264.1,728.8 L264.4,729.3 L266.0,730.7 L266.1,732.0 L266.5,733.5 L266.7,734.8 L267.2,736.6 L268.0,737.8 L268.6,739.2 L269.2,739.6 L269.3,740.8 L269.2,742.6 L269.3,743.0 L269.4,744.3 L269.3,745.9 L269.3,747.9 L269.4,748.6 L269.3,750.1 L269.0,750.8 L269.1,752.6 L269.3,754.4 L269.0,754.9 L269.2,755.8 L270.4,757.1 L270.7,757.8 L270.7,759.9 L270.6,760.6 L270.5,761.6 L270.9,763.0 L270.9,764.8 L270.7,765.3 L270.9,766.8 L270.6,767.8 L270.9,769.3 L270.5,770.5 L270.4,771.9 L270.6,772.7 L270.8,774.6 L270.4,775.4 L270.5,777.1 L270.8,777.5 L270.5,778.7 L270.9,780.1 L270.7,781.5 L270.7,782.9 L270.8,783.5 L270.8,785.0 L270.7,786.2 L270.7,787.7 L271.0,788.7 L271.4,790.2 L271.1,791.0 L271.6,793.0 L272.0,793.8 L271.7,795.3 L272.1,796.3 L272.5,797.6 L272.3,799.2 L272.2,799.8 L272.5,800.8 L272.1,802.8 L271.9,804.1 L272.2,804.8 L271.9,806.5 L272.2,807.0 L271.9,808.7 L271.9,809.7 L271.6,811.3 L272.0,811.9 L272.0,811.6 L272.6,810.2 L272.5,809.0 L273.4,808.1 L273.6,805.7 L274.0,804.7 L274.2,804.3 L275.1,804.8 L275.7,807.2 L276.2,807.9 L277.0,808.6 L277.7,809.6 L277.9,811.1 L279.1,810.2 L280.5,810.4 L281.1,808.5 L281.2,807.6 L281.7,806.6 L282.3,805.3 L282.1,804.6 L282.6,803.3 L283.4,804.8 L284.0,805.6 L284.4,806.7 L284.9,808.1 L285.7,808.5 L286.1,807.7 L287.0,806.3 L287.5,805.7 L287.2,804.4 L287.2,802.5 L287.5,801.3 L287.6,800.3 L287.3,799.4 L287.1,798.1 L287.1,796.1 L287.7,795.5 L287.2,793.5 L289.4,793.0 L289.3,791.1 L289.1,790.1 L288.8,788.7 L288.9,787.5 L288.7,785.9 L288.9,785.3 L288.9,783.7 L288.8,782.5 L288.6,781.3 L289.1,782.3 L289.1,783.0 L289.5,784.2 L290.3,785.8 L290.6,786.4 L290.8,788.6 L292.3,787.9 L293.5,787.3 L294.7,787.2 L294.9,786.2 L295.4,784.6 L295.1,783.5 L295.2,782.3 L295.3,781.2 L295.4,780.4 L295.9,779.0 L296.3,777.3 L296.4,776.2 L296.4,774.5 L298.0,774.2 L299.7,773.3 L300.8,772.9 L302.3,772.7 L302.6,772.0 L302.9,769.5 L303.6,770.6 L304.3,772.3 L304.5,772.8 L305.4,774.8 L306.0,775.4 L306.7,776.0 L306.8,778.1 L307.6,778.4 L308.5,778.4 L309.4,776.4 L310.0,775.0 L311.3,774.3 L311.3,772.5 L310.9,771.3 L311.0,770.1 L310.9,769.3 L311.0,767.6 L310.8,767.5 L310.9,765.7 L312.2,764.0 L312.1,762.3 L312.2,761.2 L312.8,759.9 L312.9,758.0 L312.5,757.0 L312.6,758.3 L312.4,759.6 L312.4,761.2 L312.0,761.8 L312.2,762.8 L311.6,764.1 L311.4,765.9 L311.7,766.5 L311.1,767.5 L311.0,768.7 L310.9,770.5 L310.7,771.1 L310.8,772.3 L310.3,773.9 L310.3,774.9 L310.1,776.3 L310.2,777.8 L310.4,776.7 L310.5,775.3 L310.5,774.3 L310.8,773.2 L311.0,771.7 L310.9,770.5 L311.1,768.4 L311.1,767.2 L311.4,766.6 L311.6,764.6 L312.0,763.8 L311.7,761.8 L311.9,760.7 L312.4,760.1 L312.4,757.8 L313.0,756.8 L313.7,755.3 L314.7,755.1 L315.0,752.8 L315.2,751.6 L315.6,750.6 L316.0,749.6 L315.8,747.7 L316.6,746.5 L316.7,745.1 L317.2,744.3 L317.4,743.0 L317.8,740.6 L318.3,739.6 L319.5,739.1 L319.8,740.0 L320.3,741.7 L320.4,742.3 L320.6,743.7 L321.0,745.3 L321.6,746.3 L321.7,747.4 L322.6,749.3 L322.9,750.2 L323.1,750.8 L323.8,752.4 L323.7,753.1 L324.2,754.9 L325.0,753.0 L325.2,751.9 L325.4,751.3 L325.7,750.0 L325.8,747.7 L326.2,747.2 L326.3,745.7 L326.6,743.9 L326.9,743.1 L327.3,742.2 L329.0,742.0 L329.7,743.1 L330.2,744.1 L330.6,745.5 L331.0,746.5 L331.6,747.6 L331.9,748.3 L332.3,749.9 L332.6,751.6 L332.7,752.3 L332.8,753.5 L332.7,754.4 L332.7,756.4 L332.8,757.9 L332.6,759.0 L332.7,760.0 L332.3,761.1 L332.8,762.0 L332.8,763.6 L332.5,764.1 L332.5,765.6 L332.6,767.7 L332.8,768.5 L332.5,769.2 L332.6,770.9 L333.7,769.8 L334.8,768.8 L335.4,768.0 L336.6,767.9 L338.1,768.7 L338.8,766.9 L338.7,766.0 L339.5,765.0 L339.8,763.2 L339.9,762.0 L340.5,760.4 L340.5,759.4 L341.7,760.0 L341.9,760.9 L343.1,762.5 L343.7,763.1 L344.7,764.7 L345.6,763.9 L346.1,762.7 L346.8,762.0 L346.7,760.6 L347.0,759.4 L347.0,757.9 L347.5,756.3 L347.3,754.7 L347.5,753.3 L347.7,752.6 L347.9,751.5 L349.7,752.2 L351.2,752.6 L351.8,754.3 L352.2,755.6 L352.5,755.9 L353.9,755.5 L355.5,755.2 L356.2,754.3 L356.3,752.6 L357.1,751.4 L357.3,750.4 L358.0,749.2 L358.5,748.3 L359.9,746.1 L361.0,745.7 L360.7,743.6 L360.8,742.6 L361.0,741.9 L360.7,739.8 L360.8,738.9 L361.0,737.4 L362.4,736.0 L363.3,737.4 L363.4,738.4 L364.1,739.9 L364.6,740.5 L365.2,741.9 L366.1,743.6 L366.1,745.6 L366.4,746.4 L367.9,745.4 L369.1,745.3 L368.7,743.8 L369.1,742.5 L369.3,740.7 L369.2,740.5 L369.4,738.5 L369.8,739.4 L370.9,741.0 L371.2,741.4 L371.7,743.5 L372.3,744.4 L373.2,745.6 L373.6,746.0 L373.8,748.1 L374.6,749.4 L376.0,748.2 L376.9,747.2 L377.3,745.8 L377.0,744.4 L377.3,743.3 L377.8,741.1 L377.6,739.9 L377.7,738.6 L378.0,737.2 L377.8,736.3 L377.9,734.9 L379.5,736.7 L380.3,736.8 L381.8,737.5 L382.8,736.1 L383.8,736.7 L384.6,736.8 L384.5,738.4 L384.9,740.0 L385.4,741.2 L385.6,742.0 L386.5,743.4 L386.7,743.8 L387.7,745.3 L388.2,746.6 L389.1,748.3 L389.5,749.0 L390.4,748.1 L391.6,746.7 L392.3,746.6 L392.9,745.8 L394.0,744.3 L395.0,743.5 L395.5,742.0 L396.3,740.7 L397.0,739.0 L397.4,738.2 L398.1,737.5 L398.4,735.8 L399.1,735.0 L400.4,735.6 L401.1,735.2 L402.7,735.7 L403.5,734.8 L405.0,734.3 L406.7,734.2 L407.9,734.9 L409.1,734.3 L409.8,735.8 L410.1,737.0 L410.5,737.8 L411.1,739.1 L411.9,740.5 L411.9,742.5 L412.5,743.1 L412.9,744.9 L413.0,746.2 L413.3,747.0 L414.0,748.5 L414.4,749.5 L414.3,750.7 L415.1,750.1 L415.1,748.4 L416.0,747.7 L416.5,746.0 L416.3,744.8 L416.4,744.1 L416.3,742.4 L416.5,740.9 L416.0,740.3 L416.0,738.3 L416.2,737.7 L416.5,736.5 L416.7,735.2 L417.9,733.4 L418.6,732.4 L419.0,731.0 L419.8,730.4 L420.4,729.2 L420.4,727.8 L421.0,727.5 L421.4,725.3 L422.0,724.1 L422.6,723.6 L422.8,721.9 L422.7,721.0 L423.1,719.8 L423.2,719.1 L423.0,717.1 L423.4,716.2 L423.8,715.0 L423.7,713.6 L423.9,712.9 L425.1,711.5 L426.5,711.2 L427.6,710.1 L428.2,709.5 L429.2,707.9 L429.8,707.1 L430.3,706.7 L431.8,705.9 L432.2,705.6 L433.4,704.4 L434.6,703.2 L435.3,702.5 L436.3,702.8 L437.8,703.8 L439.1,703.9 L439.9,704.6 L441.1,706.5 L441.8,707.3 L442.1,708.4 L442.2,709.3 L442.4,710.9 L442.1,712.5 L442.6,714.4 L442.3,714.7 L442.5,716.1 L442.7,717.2 L443.3,718.9 L443.3,719.8 L443.7,721.8 L444.0,722.0 L445.2,722.5 L446.3,721.7 L447.8,721.0 L448.0,722.4 L448.0,723.0 L448.8,724.6 L448.8,726.3 L449.2,727.0 L449.4,728.4 L449.7,729.2 L451.3,729.5 L452.2,729.2 L453.8,730.0 L454.8,730.4 L455.5,728.4 L456.2,727.7 L457.2,727.2 L457.6,725.9 L458.3,724.7 L459.2,723.6 L460.0,723.2 L460.9,722.4 L461.9,721.3 L463.2,721.6 L464.5,722.5 L465.3,722.1 L465.8,723.3 L465.7,725.1 L466.1,726.2 L466.1,728.4 L467.9,727.2 L469.7,727.3 L470.1,726.2 L470.2,724.9 L470.7,722.7 L472.1,722.3 L473.4,721.9 L474.8,720.8 L475.8,721.2 L477.1,722.7 L478.3,722.4 L478.5,724.2 L478.7,725.3 L479.6,727.4 L479.2,728.7 L479.6,729.5 L479.7,730.7 L479.5,731.8 L479.9,733.8 L480.0,735.0 L480.2,736.2 L480.7,737.7 L481.0,739.5 L481.2,740.8 L481.3,741.7 L482.4,740.4 L482.5,739.1 L483.5,738.0 L483.9,737.3 L484.5,735.8 L484.7,733.7 L485.2,733.1 L485.8,732.0 L486.5,730.7 L487.3,729.4 L487.5,728.6 L488.8,726.6 L488.5,725.2 L488.7,723.7 L488.9,722.0 L491.1,721.7 L491.9,720.7 L492.5,718.7 L493.4,718.2 L494.4,717.8 L495.4,718.4 L496.6,718.3 L497.0,720.7 L497.5,722.4 L497.9,723.8 L499.1,725.2 L500.3,725.7 L500.5,727.4 L501.0,728.8 L501.1,729.6 L501.4,731.0 L501.9,733.1 L502.1,733.9 L503.0,734.9 L503.0,736.3 L503.7,736.9 L504.1,737.9 L504.5,739.6 L504.9,740.2 L505.6,742.5 L506.3,742.9 L506.8,743.8 L506.8,744.8 L506.9,747.0 L507.4,748.3 L507.6,749.7 L507.8,751.3 L508.2,752.0 L508.7,753.5 L509.5,754.4 L509.8,756.2 L509.6,757.1 L509.7,758.6 L509.9,759.1 L510.0,760.8 L509.8,762.6 L510.1,763.2 L510.0,764.2 L509.9,765.4 L510.0,767.7 L510.0,767.9 L509.9,769.7 L510.1,770.6 L510.3,772.3 L510.5,773.9 L510.9,774.8 L511.1,776.2 L511.9,777.5 L511.3,778.9 L511.8,779.8 L511.4,781.2 L511.5,782.8 L511.1,784.6 L511.2,785.6 L511.2,787.1 L510.9,787.6 L511.0,788.9 L511.2,790.5 L512.1,790.1 L513.6,789.8 L514.5,789.5 L514.9,787.8 L515.2,786.1 L515.5,785.6 L515.8,783.6 L516.3,782.5 L516.6,781.2 L517.5,779.5 L517.7,779.2 L518.8,777.3 L519.3,776.8 L520.4,775.7 L521.2,774.3 L521.7,773.0 L522.5,772.0 L523.0,771.3 L523.4,770.1 L523.6,768.5 L524.0,767.5 L524.2,766.7 L524.7,765.4 L525.4,764.4 L525.4,763.2 L526.0,763.6 L526.1,765.7 L526.2,766.5 L526.3,767.9 L527.0,769.2 L526.8,770.8 L527.2,772.1 L527.5,772.9 L527.6,774.7 L528.4,775.2 L528.6,776.7 L529.0,778.3 L529.5,776.2 L529.5,775.1 L529.8,774.1 L530.1,772.2 L530.5,770.9 L530.7,771.7 L531.6,773.5 L531.5,774.3 L531.7,775.0 L532.1,777.2 L532.5,777.5 L532.7,778.5 L535.0,779.5 L536.7,779.9 L536.7,780.5 L536.5,781.7 L536.5,782.9 L537.0,784.5 L536.6,785.5 L537.2,787.4 L537.6,788.6 L538.2,789.6 L538.4,790.9 L538.8,791.5 L539.2,793.3 L539.6,791.6 L540.1,790.6 L540.9,789.5 L541.3,788.5 L542.5,788.0 L543.7,787.9 L545.1,788.6 L547.5,787.9 L548.6,788.1 L550.3,789.0 L550.2,790.4 L550.6,791.6 L551.2,793.3 L551.3,794.8 L551.9,793.7 L552.6,792.0 L553.7,790.9 L554.3,789.8 L555.7,789.5 L556.7,788.9 L558.3,789.4 L558.2,788.2 L558.5,786.5 L558.7,785.6 L558.7,783.8 L559.0,782.6 L560.3,782.1 L562.0,782.5 L563.6,781.9 L564.6,781.6 L565.6,780.2 L567.2,780.6 L568.0,781.6 L569.1,782.4" fill="none" stroke="#ff0000" stroke-width="3.5" stroke-linejoin="round" stroke-linecap="round" />
<line x1="279" y1="681.8" x2="319.4" y2="681.8" stroke="#f00" stroke-width="3.5" stroke-linecap="round"/>
<text x="323.4" y="681.8" font-size="15" dominant-baseline="central" font-family="Liberation Sans" fill="#222" textLength="184.6" lengthAdjust="spacingAndGlyphs">纯苯 华东地区（元/吨）</text>
<rect x="625" y="654" width="456" height="235" fill="#fff"/>
<line x1="683.3" y1="701.4" x2="1050.7" y2="701.4" stroke="#000" stroke-width="1.8" stroke-dasharray="4.1 2"/>
<line x1="683.3" y1="742.5" x2="1050.7" y2="742.5" stroke="#000" stroke-width="1.8" stroke-dasharray="4.1 2"/>
<line x1="683.3" y1="783.4" x2="1050.7" y2="783.4" stroke="#000" stroke-width="1.8" stroke-dasharray="4.1 2"/>
<line x1="683.3" y1="700.4" x2="683.3" y2="825" stroke="#000" stroke-width="1.8"/>
<line x1="682.3" y1="824" x2="1050.7" y2="824" stroke="#000" stroke-width="1.8"/>
<line x1="715" y1="819" x2="715" y2="824" stroke="#000" stroke-width="1.5"/>
<line x1="748.1" y1="819" x2="748.1" y2="824" stroke="#000" stroke-width="1.5"/>
<line x1="779.6" y1="819" x2="779.6" y2="824" stroke="#000" stroke-width="1.5"/>
<line x1="813" y1="819" x2="813" y2="824" stroke="#000" stroke-width="1.5"/>
<line x1="844.6" y1="819" x2="844.6" y2="824" stroke="#000" stroke-width="1.5"/>
<line x1="877.9" y1="819" x2="877.9" y2="824" stroke="#000" stroke-width="1.5"/>
<line x1="910.8" y1="819" x2="910.8" y2="824" stroke="#000" stroke-width="1.5"/>
<line x1="942.4" y1="819" x2="942.4" y2="824" stroke="#000" stroke-width="1.5"/>
<line x1="975.3" y1="819" x2="975.3" y2="824" stroke="#000" stroke-width="1.5"/>
<line x1="1007.4" y1="819" x2="1007.4" y2="824" stroke="#000" stroke-width="1.5"/>
<line x1="1040.3" y1="819" x2="1040.3" y2="824" stroke="#000" stroke-width="1.5"/>
<text transform="translate(669.5 700.7) scale(0.9 1)" font-size="18" font-weight="bold" text-anchor="end" dominant-baseline="central">1400</text>
<text transform="translate(669.5 741.8) scale(0.9 1)" font-size="18" font-weight="bold" text-anchor="end" dominant-baseline="central">1000</text>
<text transform="translate(669.5 782.7) scale(0.9 1)" font-size="18" font-weight="bold" text-anchor="end" dominant-baseline="central">600</text>
<text transform="translate(669.5 824.2) scale(0.9 1)" font-size="18" font-weight="bold" text-anchor="end" dominant-baseline="central">200</text>
<text transform="translate(686.4 845.5) rotate(-45) scale(0.88 1)" font-size="17.5" font-weight="bold" text-anchor="end">07/1</text>
<text transform="translate(718.2 845.5) rotate(-45) scale(0.88 1)" font-size="17.5" font-weight="bold" text-anchor="end">07/11</text>
<text transform="translate(751.3 845.5) rotate(-45) scale(0.88 1)" font-size="17.5" font-weight="bold" text-anchor="end">08/9</text>
<text transform="translate(782.8 845.5) rotate(-45) scale(0.88 1)" font-size="17.5" font-weight="bold" text-anchor="end">09/7</text>
<text transform="translate(816.2 845.5) rotate(-45) scale(0.88 1)" font-size="17.5" font-weight="bold" text-anchor="end">10/5</text>
<text transform="translate(847.8 845.5) rotate(-45) scale(0.88 1)" font-size="17.5" font-weight="bold" text-anchor="end">11/3</text>
<text transform="translate(881.1 845.5) rotate(-45) scale(0.88 1)" font-size="17.5" font-weight="bold" text-anchor="end">12/1</text>
<text transform="translate(914.0 845.5) rotate(-45) scale(0.88 1)" font-size="17.5" font-weight="bold" text-anchor="end">12/11</text>
<text transform="translate(945.6 845.5) rotate(-45) scale(0.88 1)" font-size="17.5" font-weight="bold" text-anchor="end">13/9</text>
<text transform="translate(978.5 845.5) rotate(-45) scale(0.88 1)" font-size="17.5" font-weight="bold" text-anchor="end">14/7</text>
<text transform="translate(1010.6 845.5) rotate(-45) scale(0.88 1)" font-size="17.5" font-weight="bold" text-anchor="end">15/5</text>
<text transform="translate(1043.5 845.5) rotate(-45) scale(0.88 1)" font-size="17.5" font-weight="bold" text-anchor="end">16/3</text>
<path d="M683.4,737.2 L683.5,736.8 L683.5,739.4 L684.0,741.0 L684.3,742.4 L684.5,743.8 L685.1,744.0 L685.0,746.1 L684.9,747.0 L685.3,747.4 L685.4,750.0 L685.5,750.2 L685.1,752.9 L685.6,753.1 L685.2,753.6 L685.6,755.2 L686.0,754.8 L685.8,753.7 L686.2,753.2 L686.7,750.6 L686.8,749.8 L687.2,749.3 L687.0,746.2 L687.6,744.6 L688.0,742.6 L688.5,742.5 L688.4,741.5 L688.9,738.8 L691.3,738.6 L691.7,741.9 L692.6,740.5 L692.8,739.2 L692.7,740.5 L693.0,737.4 L693.0,736.4 L693.0,736.9 L693.2,733.8 L693.7,732.4 L694.2,730.5 L694.5,731.0 L694.6,729.6 L694.7,728.0 L696.4,727.6 L697.6,728.7 L698.2,728.0 L698.9,729.7 L699.4,732.4 L699.2,731.5 L699.1,734.5 L699.3,734.9 L699.3,738.3 L699.2,738.0 L699.6,740.0 L699.7,738.4 L700.2,736.3 L700.6,735.6 L701.3,734.5 L702.9,736.5 L703.4,735.8 L703.6,736.8 L703.8,738.5 L704.4,741.0 L704.4,739.3 L705.3,740.6 L705.7,744.0 L706.5,744.9 L707.4,746.8 L708.5,743.2 L708.9,744.9 L709.9,742.4 L710.9,742.7 L711.5,740.7 L712.0,739.3 L712.7,738.9 L713.7,736.3 L714.5,735.0 L715.0,737.8 L716.1,739.7 L717.2,740.3 L717.8,741.8 L718.8,742.3 L719.4,744.7 L719.6,744.9 L719.7,747.5 L719.7,746.8 L720.6,744.1 L720.9,743.0 L721.0,742.6 L721.2,741.7 L722.2,739.0 L722.9,739.6 L723.6,741.3 L724.5,742.9 L725.6,740.6 L726.3,741.8 L726.6,739.6 L726.2,737.2 L726.4,735.5 L726.8,736.3 L726.8,734.8 L726.4,731.6 L726.6,730.4 L727.7,732.2 L728.8,731.8 L729.7,734.0 L730.6,733.1 L731.5,731.5 L732.4,731.5 L733.4,729.6 L733.4,729.2 L734.0,727.3 L733.7,725.5 L733.9,724.9 L734.5,723.5 L734.4,721.4 L734.8,720.4 L735.1,720.8 L735.5,718.4 L735.9,717.0 L736.0,714.9 L736.0,715.3 L735.8,713.0 L736.0,710.0 L735.9,710.7 L736.0,709.3 L736.1,706.9 L737.6,707.8 L739.6,707.3 L741.0,709.7 L741.7,707.2 L742.8,707.3 L742.8,708.0 L743.1,707.8 L744.0,709.0 L744.3,712.5 L744.5,713.8 L744.6,713.8 L744.5,714.8 L744.9,717.9 L744.9,717.5 L744.9,719.0 L745.1,721.8 L745.3,723.0 L746.8,724.3 L746.6,725.2 L746.7,726.0 L746.9,729.2 L747.0,730.5 L749.9,729.1 L749.9,729.2 L749.5,730.3 L749.5,731.6 L750.0,733.1 L749.9,734.9 L749.7,736.6 L749.8,739.5 L750.0,739.6 L750.1,741.0 L750.1,741.2 L750.0,744.3 L751.7,744.1 L752.1,745.8 L752.1,747.7 L751.9,746.9 L751.9,749.2 L752.0,750.6 L751.9,752.7 L751.7,754.0 L752.0,753.2 L752.0,756.6 L751.9,756.3 L751.5,756.9 L751.6,760.3 L751.5,759.0 L751.5,760.5 L751.6,763.8 L751.8,763.0 L751.5,764.4 L751.8,767.7 L751.5,769.3 L751.5,770.1 L751.4,770.1 L751.7,772.8 L751.4,774.1 L751.5,775.1 L751.1,774.4 L752.3,776.9 L753.8,776.7 L753.7,777.8 L753.8,781.0 L753.4,782.8 L753.8,781.5 L753.6,782.8 L753.8,786.2 L753.5,785.2 L753.7,788.5 L753.8,788.5 L753.4,790.1 L753.6,791.9 L753.7,792.9 L753.9,793.8 L753.9,793.9 L753.4,796.9 L753.4,798.5 L753.6,796.9 L753.5,800.1 L753.6,801.0 L753.4,802.8 L753.6,804.0 L753.4,804.7 L753.6,805.1 L753.4,806.7 L753.9,806.6 L754.5,805.2 L755.7,806.9 L755.8,806.8 L755.8,807.0 L756.5,810.3 L757.0,811.9 L757.0,811.4 L757.4,813.0 L757.7,815.9 L758.4,815.0 L759.4,811.1 L760.2,811.8 L760.8,808.6 L761.8,809.0 L762.3,806.8 L762.3,804.9 L762.7,804.3 L763.0,802.2 L763.6,802.6 L764.5,800.0 L765.1,800.0 L765.5,799.7 L766.0,799.0 L766.3,802.6 L766.7,802.4 L767.2,803.7 L767.6,804.3 L767.7,804.4 L768.1,803.2 L768.1,802.0 L768.8,800.2 L768.8,799.9 L768.8,796.9 L769.5,795.7 L769.3,794.6 L769.8,793.8 L769.9,791.3 L769.7,791.5 L769.9,790.3 L770.1,787.2 L770.0,787.0 L770.4,784.9 L770.3,783.0 L770.4,782.7 L770.6,782.2 L770.9,781.2 L771.0,778.6 L770.9,778.6 L771.2,775.8 L771.1,776.4 L771.8,780.1 L772.0,780.9 L772.7,782.3 L773.3,781.2 L773.6,782.5 L773.6,784.4 L774.1,782.0 L774.2,781.0 L774.3,779.3 L774.5,778.3 L774.9,777.5 L776.0,777.0 L776.7,774.9 L776.9,773.3 L776.7,771.7 L777.0,770.5 L776.8,769.9 L777.1,769.5 L777.2,768.1 L777.0,767.7 L777.4,764.9 L777.3,764.2 L778.8,764.4 L779.7,762.0 L779.8,760.1 L780.5,758.9 L780.6,758.8 L781.1,758.2 L781.6,756.1 L782.1,754.9 L782.7,752.3 L783.4,751.4 L783.7,751.7 L784.0,751.9 L784.3,755.0 L784.4,755.8 L785.1,755.8 L785.5,757.4 L786.2,759.6 L786.6,758.9 L787.1,761.7 L787.7,760.3 L788.1,761.8 L788.3,764.7 L788.8,765.7 L789.2,767.2 L789.7,769.1 L789.6,770.4 L790.0,772.2 L790.5,769.4 L790.5,769.6 L791.0,765.9 L791.6,764.7 L791.5,763.7 L793.6,764.1 L793.6,763.8 L793.7,760.3 L794.1,758.6 L793.7,757.5 L794.4,756.7 L794.3,755.2 L794.7,755.0 L795.2,752.2 L795.3,752.4 L795.8,750.1 L795.5,752.7 L795.5,753.8 L795.5,754.3 L794.9,756.3 L795.3,755.1 L794.7,758.1 L794.9,758.0 L794.9,758.9 L794.5,761.3 L794.2,763.2 L794.1,764.7 L794.6,761.1 L794.5,761.4 L794.8,760.3 L794.9,757.5 L795.4,756.5 L795.5,755.7 L795.9,755.1 L796.3,753.3 L796.5,753.0 L797.1,751.7 L797.5,749.7 L797.4,748.4 L797.6,745.8 L797.8,743.6 L797.9,742.7 L797.9,742.0 L798.4,741.3 L798.3,740.2 L798.6,737.8 L798.9,736.2 L799.0,736.9 L799.5,734.7 L799.7,732.9 L800.0,730.1 L800.2,732.8 L801.1,732.4 L801.5,734.5 L802.0,737.3 L801.6,737.2 L801.9,737.7 L801.9,741.5 L802.4,740.6 L802.4,741.4 L802.4,742.6 L802.5,745.3 L802.8,746.5 L802.9,746.8 L802.8,747.9 L802.6,751.5 L803.3,750.8 L804.2,751.5 L805.2,754.3 L805.6,754.9 L806.1,752.0 L806.3,753.0 L806.5,750.6 L806.5,748.1 L806.7,747.3 L807.1,747.4 L807.5,744.3 L808.3,744.1 L808.3,744.1 L808.6,741.6 L809.3,740.9 L809.6,740.9 L811.0,739.9 L812.1,740.8 L813.2,742.3 L813.1,744.4 L813.1,745.8 L813.4,745.9 L813.2,747.1 L813.4,748.7 L813.7,748.5 L813.4,752.1 L813.5,752.8 L813.9,754.4 L813.6,755.2 L814.3,754.7 L813.9,758.6 L814.5,759.3 L814.7,760.4 L814.5,760.3 L814.5,763.1 L815.0,765.4 L815.8,762.1 L816.8,763.7 L817.7,762.8 L818.6,763.6 L819.0,764.8 L819.9,765.8 L820.4,765.6 L821.0,764.3 L821.1,762.5 L821.2,762.8 L821.4,762.5 L821.6,759.2 L821.8,758.9 L822.0,758.7 L822.1,756.2 L822.7,754.0 L822.9,755.9 L823.8,758.0 L824.4,758.8 L824.5,760.6 L825.4,756.9 L826.4,756.0 L826.9,755.6 L828.3,754.9 L829.0,756.0 L828.8,752.2 L828.9,752.5 L829.3,750.3 L829.5,748.3 L829.2,747.9 L829.7,748.0 L830.0,746.9 L830.1,744.7 L829.9,741.8 L830.9,745.5 L831.9,745.3 L832.6,747.4 L833.7,748.4 L834.3,750.3 L835.4,748.6 L835.7,748.0 L835.4,746.6 L835.8,744.2 L836.5,743.9 L836.5,743.8 L837.0,741.5 L837.6,740.3 L838.2,738.7 L838.6,738.4 L838.8,736.8 L839.5,735.4 L839.5,734.3 L839.7,732.5 L840.5,733.7 L840.2,731.2 L840.5,728.7 L840.2,729.4 L840.2,726.6 L840.4,725.3 L840.1,723.3 L841.2,724.4 L841.4,721.2 L842.1,721.3 L842.9,719.7 L843.0,719.9 L843.6,717.0 L843.9,720.2 L844.6,720.0 L844.6,722.3 L844.8,723.9 L844.9,725.0 L845.1,724.6 L845.3,726.0 L846.8,725.0 L847.6,723.2 L848.7,724.2 L849.1,723.8 L849.3,722.0 L849.9,721.4 L850.5,718.3 L851.4,717.6 L851.8,717.7 L852.1,718.9 L852.3,722.5 L852.0,721.7 L852.3,723.1 L852.6,724.8 L853.1,726.9 L853.9,729.2 L855.0,728.5 L856.1,729.6 L856.5,731.6 L856.6,733.2 L857.1,732.0 L857.2,735.4 L857.8,736.8 L858.1,735.5 L858.4,732.7 L858.6,733.2 L858.8,729.8 L858.9,730.3 L859.3,727.1 L859.1,726.9 L859.5,725.5 L859.8,723.1 L860.5,723.3 L860.3,721.8 L860.7,720.2 L861.3,720.3 L861.1,716.4 L862.0,715.5 L862.1,718.3 L862.2,719.5 L862.2,721.4 L862.8,721.0 L862.5,722.8 L862.8,724.4 L863.3,725.0 L863.5,726.2 L863.4,728.9 L864.4,728.2 L865.3,725.2 L866.2,723.9 L866.6,723.0 L867.2,723.3 L867.1,726.5 L867.0,727.5 L866.7,728.3 L867.2,730.6 L866.9,730.6 L866.9,731.6 L866.8,732.4 L867.2,733.0 L866.7,736.0 L867.1,737.5 L866.7,738.1 L867.2,740.5 L866.8,742.0 L867.2,740.7 L867.1,742.1 L866.6,743.9 L867.2,746.1 L867.7,745.3 L868.7,744.0 L869.8,742.4 L870.6,743.6 L871.5,745.6 L872.2,746.5 L873.0,745.4 L873.9,748.9 L874.0,746.1 L874.4,744.3 L874.4,743.6 L874.5,742.1 L875.0,740.7 L875.6,739.8 L876.3,739.6 L876.7,737.9 L877.2,735.3 L877.4,734.3 L877.4,734.1 L877.7,731.4 L877.8,732.6 L877.7,730.5 L877.9,729.2 L878.4,728.7 L878.4,725.4 L878.6,723.6 L878.7,724.0 L879.2,722.0 L879.6,721.1 L879.5,721.3 L880.0,719.3 L881.7,720.2 L883.0,721.8 L884.4,719.8 L884.9,723.7 L885.6,723.3 L886.7,723.7 L888.2,721.0 L889.2,721.4 L890.3,721.6 L890.8,721.8 L891.0,725.1 L891.1,724.1 L891.3,726.8 L891.3,728.0 L891.7,727.3 L891.8,728.7 L892.0,730.5 L891.9,732.4 L892.4,732.5 L892.7,734.8 L892.8,736.6 L892.9,736.6 L892.8,738.4 L893.6,740.7 L893.2,741.9 L893.7,742.1 L894.0,745.4 L894.3,745.6 L894.7,745.5 L894.7,743.1 L895.0,742.8 L895.8,741.5 L895.9,740.5 L896.3,737.6 L896.4,736.5 L896.9,734.5 L896.9,734.5 L896.5,734.5 L896.8,731.1 L897.1,730.9 L897.1,729.2 L897.0,729.6 L897.1,725.9 L897.4,726.5 L897.4,726.0 L899.1,725.2 L900.5,726.8 L901.4,725.1 L902.3,724.2 L902.8,724.3 L903.0,722.8 L903.5,722.2 L904.0,718.9 L904.5,717.8 L905.8,716.7 L906.2,716.0 L907.2,716.4 L907.8,712.8 L907.9,713.4 L908.2,713.3 L908.9,709.5 L908.9,710.9 L909.6,707.4 L909.5,708.0 L910.5,705.3 L911.5,705.5 L912.0,703.7 L913.2,702.1 L914.4,703.9 L915.6,701.4 L917.2,701.4 L918.5,702.1 L920.1,703.3 L921.4,701.0 L923.1,701.3 L922.9,701.6 L923.4,704.6 L923.3,704.4 L923.4,706.2 L924.0,708.5 L924.2,709.9 L924.1,708.9 L924.0,710.3 L924.7,712.6 L924.8,713.6 L924.5,715.8 L925.1,715.4 L925.9,712.7 L926.4,712.5 L926.9,710.2 L928.6,711.5 L929.5,712.4 L931.1,711.1 L931.5,713.9 L931.9,714.7 L932.4,715.1 L933.2,715.7 L933.4,717.5 L934.3,717.6 L934.7,719.5 L935.3,719.9 L935.5,721.0 L936.7,721.8 L937.4,720.9 L938.3,718.8 L938.5,719.0 L939.4,716.5 L940.1,717.1 L940.9,714.4 L941.0,715.5 L941.6,714.6 L941.7,712.4 L942.0,710.5 L942.6,708.8 L943.1,709.4 L944.0,710.8 L944.3,712.2 L945.0,713.8 L945.7,716.0 L946.4,716.8 L946.4,718.7 L947.1,719.8 L948.0,719.2 L949.1,719.8 L949.8,717.8 L950.6,716.4 L950.7,715.7 L951.0,716.3 L951.3,715.2 L951.6,711.5 L951.6,712.7 L951.8,710.1 L952.3,708.1 L952.3,707.4 L953.5,706.5 L954.3,704.9 L955.5,704.5 L956.8,704.7 L957.6,703.9 L958.4,706.0 L959.1,706.2 L959.4,706.8 L960.0,707.9 L960.8,710.0 L961.1,711.5 L961.9,711.3 L962.2,714.1 L962.3,714.9 L962.9,714.7 L963.2,717.1 L963.4,719.7 L963.6,716.2 L964.1,715.8 L964.7,714.7 L965.0,713.9 L965.3,714.0 L965.6,712.6 L966.0,712.0 L966.4,713.2 L966.7,711.9 L967.7,714.4 L968.1,713.9 L968.5,717.4 L969.4,716.8 L970.9,715.6 L971.4,714.5 L972.9,711.7 L972.9,710.6 L973.4,709.5 L973.7,710.1 L973.9,709.3 L974.2,705.5 L974.4,704.9 L974.8,703.6 L974.6,702.9 L974.9,702.0 L975.7,702.3 L976.6,704.9 L977.3,705.3 L978.2,704.9 L978.6,706.5 L979.6,706.7 L979.8,708.3 L980.0,709.8 L980.5,711.6 L980.7,713.1 L980.6,712.9 L981.0,715.4 L980.8,715.0 L981.6,716.7 L981.2,719.8 L982.0,720.4 L982.1,720.6 L983.0,721.8 L984.0,721.5 L985.5,722.2 L986.6,724.4 L988.0,724.9 L987.7,724.9 L987.8,725.0 L987.7,726.9 L988.3,728.0 L988.2,728.7 L988.2,732.2 L988.6,733.7 L988.5,732.7 L988.7,734.0 L988.6,735.6 L989.0,738.0 L989.1,739.9 L989.8,739.4 L989.7,742.0 L989.9,744.7 L990.0,744.9 L990.0,746.0 L990.2,746.2 L990.4,747.4 L990.6,750.5 L990.4,750.3 L990.7,753.0 L990.5,752.3 L990.6,755.6 L990.8,756.5 L991.2,758.0 L991.0,757.6 L991.0,759.2 L991.8,759.8 L992.3,762.6 L992.3,762.0 L993.0,763.0 L992.6,764.7 L992.9,765.8 L993.0,768.2 L993.1,769.4 L993.1,768.8 L993.0,771.3 L992.7,771.2 L993.2,772.8 L992.7,774.4 L992.7,776.6 L992.9,776.8 L992.9,779.8 L992.9,781.5 L993.5,780.5 L993.9,781.6 L994.1,782.4 L995.0,783.9 L995.6,784.6 L995.9,786.4 L995.7,786.1 L996.2,784.0 L996.2,782.2 L996.6,781.7 L996.9,781.5 L996.9,780.4 L997.3,778.1 L997.2,775.7 L997.3,775.1 L997.2,775.7 L998.2,774.5 L999.3,777.7 L1000.3,779.1 L1000.5,776.2 L1000.3,775.2 L1000.5,774.5 L1000.2,772.5 L1000.1,770.0 L1000.5,769.1 L1000.3,770.0 L1000.2,766.9 L1001.2,766.7 L1002.3,765.1 L1002.9,765.8 L1003.9,764.2 L1004.6,762.0 L1004.7,761.9 L1005.0,759.0 L1005.4,758.8 L1006.0,759.4 L1006.3,756.6 L1006.8,757.0 L1007.2,755.9 L1007.4,758.3 L1007.3,758.8 L1007.5,760.3 L1008.0,762.6 L1008.1,763.7 L1008.6,765.9 L1008.9,765.4 L1009.1,767.5 L1009.1,768.2 L1009.7,768.2 L1009.8,767.2 L1010.5,765.8 L1010.5,767.2 L1011.3,764.8 L1011.4,762.5 L1011.8,760.7 L1012.3,761.3 L1012.5,760.9 L1012.8,759.0 L1013.0,757.3 L1013.6,759.1 L1014.2,758.5 L1014.0,761.0 L1014.8,760.1 L1014.9,763.3 L1015.7,763.1 L1015.7,764.3 L1016.1,766.5 L1016.8,767.2 L1016.9,768.2 L1017.3,768.5 L1017.5,770.3 L1018.0,771.4 L1018.3,772.1 L1017.9,773.7 L1018.5,774.7 L1018.3,778.2 L1018.4,778.9 L1018.6,780.7 L1018.8,781.8 L1019.1,781.0 L1019.1,783.2 L1019.3,786.1 L1019.2,784.6 L1020.9,784.5 L1022.2,784.5 L1023.0,784.9 L1024.3,784.5 L1025.2,783.0 L1025.6,781.9 L1026.7,780.4 L1027.8,779.5 L1028.6,778.2 L1029.0,778.8 L1029.9,780.5 L1030.6,782.2 L1031.6,783.4 L1032.2,783.4 L1033.1,786.1 L1034.0,784.9 L1035.0,787.4 L1035.5,789.3 L1036.5,789.8 L1037.3,788.1 L1038.4,786.6 L1039.4,784.5 L1039.7,785.6 L1040.1,783.0 L1039.7,782.5 L1040.2,782.0 L1040.4,779.7 L1040.2,777.3 L1040.6,775.6 L1040.5,774.4 L1041.9,776.7 L1042.5,778.3 L1043.5,778.7 L1044.7,778.5 L1045.5,778.7 L1046.3,776.0 L1047.3,777.2 L1048.3,779.5 L1049.3,781.4 L1049.8,780.2 L1050.5,782.5" fill="none" stroke="#ff0000" stroke-width="3.8" stroke-linejoin="round" stroke-linecap="round" />
<line x1="760" y1="676.8" x2="799" y2="676.8" stroke="#f00" stroke-width="3.5" stroke-linecap="round"/>
<text x="804" y="676.8" font-size="15" dominant-baseline="central" font-family="Liberation Sans" fill="#222" textLength="194.0" lengthAdjust="spacingAndGlyphs">纯苯 FOB韩国（美元/吨）</text>
<rect x="146" y="958" width="445" height="181" fill="#fff"/>
<line x1="211.9" y1="993.8" x2="561.5" y2="993.8" stroke="#333" stroke-width="1.8" stroke-dasharray="3.9 1.85"/>
<line x1="211.9" y1="1017.4" x2="561.5" y2="1017.4" stroke="#333" stroke-width="1.8" stroke-dasharray="3.9 1.85"/>
<line x1="211.9" y1="1041.3" x2="561.5" y2="1041.3" stroke="#333" stroke-width="1.8" stroke-dasharray="3.9 1.85"/>
<line x1="211.9" y1="1065" x2="561.5" y2="1065" stroke="#333" stroke-width="1.8" stroke-dasharray="3.9 1.85"/>
<line x1="211.9" y1="992.8" x2="211.9" y2="1089.8" stroke="#000" stroke-width="1.8"/>
<line x1="210.9" y1="1088.8" x2="561.5" y2="1088.8" stroke="#000" stroke-width="1.8"/>
<line x1="242.5" y1="1083.8" x2="242.5" y2="1088.8" stroke="#000" stroke-width="1.5"/>
<line x1="273.3" y1="1083.8" x2="273.3" y2="1088.8" stroke="#000" stroke-width="1.5"/>
<line x1="304.2" y1="1083.8" x2="304.2" y2="1088.8" stroke="#000" stroke-width="1.5"/>
<line x1="335.1" y1="1083.8" x2="335.1" y2="1088.8" stroke="#000" stroke-width="1.5"/>
<line x1="366" y1="1083.8" x2="366" y2="1088.8" stroke="#000" stroke-width="1.5"/>
<line x1="396.8" y1="1083.8" x2="396.8" y2="1088.8" stroke="#000" stroke-width="1.5"/>
<line x1="427.8" y1="1083.8" x2="427.8" y2="1088.8" stroke="#000" stroke-width="1.5"/>
<line x1="458.5" y1="1083.8" x2="458.5" y2="1088.8" stroke="#000" stroke-width="1.5"/>
<line x1="489.4" y1="1083.8" x2="489.4" y2="1088.8" stroke="#000" stroke-width="1.5"/>
<line x1="520.3" y1="1083.8" x2="520.3" y2="1088.8" stroke="#000" stroke-width="1.5"/>
<line x1="551.2" y1="1083.8" x2="551.2" y2="1088.8" stroke="#000" stroke-width="1.5"/>
<text transform="translate(198 994) scale(1.2 1)" font-size="13.5" font-weight="bold" text-anchor="end" dominant-baseline="central">14000</text>
<text transform="translate(198 1017.6) scale(1.2 1)" font-size="13.5" font-weight="bold" text-anchor="end" dominant-baseline="central">11500</text>
<text transform="translate(198 1041.4) scale(1.2 1)" font-size="13.5" font-weight="bold" text-anchor="end" dominant-baseline="central">9000</text>
<text transform="translate(198 1065.2) scale(1.2 1)" font-size="13.5" font-weight="bold" text-anchor="end" dominant-baseline="central">6500</text>
<text transform="translate(198 1089.4) scale(1.2 1)" font-size="13.5" font-weight="bold" text-anchor="end" dominant-baseline="central">4000</text>
<text transform="translate(214.2 1103.3) rotate(-45) scale(1.0 1)" font-size="14.5" font-weight="bold" text-anchor="end">07/1</text>
<text transform="translate(244.8 1103.3) rotate(-45) scale(1.0 1)" font-size="14.5" font-weight="bold" text-anchor="end">07/11</text>
<text transform="translate(275.6 1103.3) rotate(-45) scale(1.0 1)" font-size="14.5" font-weight="bold" text-anchor="end">08/9</text>
<text transform="translate(306.5 1103.3) rotate(-45) scale(1.0 1)" font-size="14.5" font-weight="bold" text-anchor="end">09/7</text>
<text transform="translate(337.4 1103.3) rotate(-45) scale(1.0 1)" font-size="14.5" font-weight="bold" text-anchor="end">10/5</text>
<text transform="translate(368.3 1103.3) rotate(-45) scale(1.0 1)" font-size="14.5" font-weight="bold" text-anchor="end">11/3</text>
<text transform="translate(399.1 1103.3) rotate(-45) scale(1.0 1)" font-size="14.5" font-weight="bold" text-anchor="end">12/1</text>
<text transform="translate(430.1 1103.3) rotate(-45) scale(1.0 1)" font-size="14.5" font-weight="bold" text-anchor="end">12/11</text>
<text transform="translate(460.8 1103.3) rotate(-45) scale(1.0 1)" font-size="14.5" font-weight="bold" text-anchor="end">13/9</text>
<text transform="translate(491.7 1103.3) rotate(-45) scale(1.0 1)" font-size="14.5" font-weight="bold" text-anchor="end">14/7</text>
<text transform="translate(522.6 1103.3) rotate(-45) scale(1.0 1)" font-size="14.5" font-weight="bold" text-anchor="end">15/5</text>
<text transform="translate(553.5 1103.3) rotate(-45) scale(1.0 1)" font-size="14.5" font-weight="bold" text-anchor="end">16/3</text>
<path d="M211.7,1005.7 L212.2,1007.1 L212.4,1008.8 L212.3,1010.4 L212.5,1011.7 L212.8,1012.7 L213.7,1014.6 L214.2,1014.9 L215.2,1016.8 L216.5,1016.4 L218.0,1016.4 L219.3,1017.0 L219.4,1015.4 L220.0,1014.9 L220.4,1013.2 L221.2,1011.5 L222.7,1010.7 L223.9,1010.3 L224.6,1009.3 L224.6,1008.2 L225.0,1006.5 L225.5,1005.7 L225.5,1004.2 L226.3,1005.6 L227.1,1005.9 L228.0,1006.7 L227.9,1008.7 L228.0,1009.5 L228.1,1010.9 L228.8,1012.0 L229.2,1012.8 L229.3,1014.3 L229.6,1013.0 L230.2,1012.3 L230.4,1010.8 L230.5,1009.6 L231.3,1008.8 L232.7,1007.7 L233.8,1008.0 L234.9,1007.6 L235.8,1006.0 L236.5,1005.5 L237.3,1006.0 L238.2,1007.9 L238.8,1008.5 L239.8,1010.1 L241.1,1010.6 L242.0,1010.6 L243.2,1011.7 L244.3,1011.8 L244.6,1012.9 L244.7,1014.5 L245.1,1015.5 L244.8,1017.0 L245.1,1018.5 L245.6,1020.0 L245.5,1021.2 L245.7,1021.7 L246.0,1023.9 L246.2,1025.2 L246.1,1025.9 L246.1,1027.5 L246.4,1025.5 L246.9,1024.3 L247.3,1022.9 L247.4,1021.7 L247.9,1020.7 L248.2,1020.0 L248.9,1017.8 L249.4,1019.4 L250.1,1020.5 L251.1,1022.9 L251.6,1021.3 L252.1,1019.8 L253.0,1018.7 L254.1,1017.3 L254.3,1017.0 L255.4,1014.8 L256.4,1015.7 L257.4,1017.8 L258.9,1018.0 L259.8,1018.1 L260.1,1017.3 L260.7,1016.1 L260.9,1014.1 L261.6,1013.8 L262.1,1012.1 L262.6,1010.5 L262.3,1009.0 L262.3,1007.1 L262.1,1006.1 L262.3,1005.4 L262.7,1003.8 L262.7,1003.2 L262.7,1001.2 L262.3,999.8 L262.8,998.4 L263.5,997.9 L264.1,996.1 L264.5,997.8 L264.7,999.0 L265.7,1000.5 L265.7,1001.3 L265.5,1003.0 L265.7,1004.3 L266.2,1005.0 L266.9,1006.7 L268.1,1006.8 L268.8,1007.8 L269.4,1010.0 L269.2,1011.4 L269.9,1012.6 L269.7,1013.9 L269.8,1014.6 L270.7,1014.2 L270.8,1013.3 L271.2,1012.0 L271.8,1010.0 L271.9,1008.9 L272.6,1010.8 L273.4,1012.1 L273.3,1013.9 L273.5,1014.6 L273.7,1016.4 L273.7,1017.6 L273.8,1018.4 L273.9,1019.0 L273.9,1020.4 L273.7,1022.4 L273.8,1023.3 L275.4,1024.4 L276.4,1025.3 L276.6,1026.9 L276.3,1027.9 L276.4,1028.8 L276.7,1030.3 L276.6,1031.9 L276.8,1032.7 L276.6,1034.0 L276.5,1035.5 L276.5,1036.6 L276.5,1038.3 L276.7,1039.5 L276.8,1040.0 L276.6,1042.1 L276.7,1042.3 L276.3,1043.9 L276.3,1045.0 L276.3,1046.7 L276.7,1048.2 L276.3,1049.3 L276.6,1049.8 L276.8,1052.1 L277.4,1053.0 L278.5,1053.5 L278.8,1055.1 L278.3,1055.9 L278.6,1057.0 L278.4,1058.2 L278.7,1059.1 L278.6,1060.8 L278.3,1061.9 L278.6,1063.3 L278.3,1065.1 L278.7,1066.3 L278.3,1066.7 L278.3,1068.6 L278.4,1069.0 L278.5,1071.2 L278.7,1071.6 L278.3,1073.6 L278.6,1074.6 L278.3,1075.1 L278.7,1076.7 L278.3,1078.6 L278.6,1079.6 L278.3,1080.9 L278.3,1082.2 L278.7,1080.2 L279.0,1079.6 L279.1,1077.4 L279.4,1076.2 L279.4,1074.8 L279.6,1073.6 L280.0,1072.4 L280.4,1073.6 L280.4,1074.7 L280.4,1075.7 L280.5,1076.9 L281.0,1078.8 L280.8,1079.9 L281.4,1080.6 L281.5,1082.2 L281.4,1083.9 L281.5,1084.8 L281.9,1084.1 L281.9,1082.7 L282.3,1081.3 L282.3,1079.7 L282.3,1078.3 L283.3,1079.7 L284.5,1079.6 L285.4,1081.1 L286.5,1079.9 L286.8,1078.4 L287.5,1077.6 L287.7,1076.5 L288.0,1075.9 L288.7,1074.2 L288.5,1073.6 L288.8,1071.6 L288.8,1070.5 L290.1,1069.6 L291.0,1068.6 L290.9,1067.0 L291.0,1065.9 L291.1,1064.2 L291.3,1063.1 L291.6,1062.2 L291.7,1061.0 L291.8,1060.0 L291.9,1058.1 L292.5,1056.7 L292.7,1056.1 L292.6,1055.1 L293.4,1053.7 L293.4,1052.7 L293.2,1051.1 L293.6,1050.2 L293.9,1049.0 L293.9,1047.9 L294.1,1046.4 L294.0,1044.4 L294.1,1043.6 L294.2,1042.9 L294.6,1041.4 L294.8,1040.3 L294.9,1038.2 L295.2,1037.9 L295.2,1036.4 L295.4,1037.1 L295.5,1038.6 L295.2,1039.9 L295.6,1041.1 L295.7,1043.3 L295.7,1043.8 L295.8,1045.4 L296.0,1046.6 L296.0,1047.2 L295.8,1048.7 L296.2,1050.0 L296.2,1050.9 L296.2,1052.6 L296.8,1054.4 L297.0,1055.3 L297.2,1056.8 L297.4,1057.8 L297.9,1059.2 L298.5,1058.8 L298.4,1057.0 L299.4,1056.3 L299.7,1054.2 L299.9,1053.7 L300.2,1051.9 L300.5,1050.5 L301.3,1048.7 L301.6,1047.8 L302.0,1046.7 L302.4,1045.6 L303.4,1043.2 L303.9,1042.4 L305.1,1043.2 L305.7,1044.3 L306.7,1045.9 L306.7,1044.6 L307.5,1042.6 L307.8,1042.2 L308.0,1040.5 L307.9,1039.4 L308.6,1038.5 L308.6,1039.5 L309.0,1040.3 L309.4,1042.4 L310.0,1043.8 L310.4,1044.2 L311.0,1045.3 L311.4,1047.4 L312.1,1048.4 L312.4,1049.8 L313.1,1050.6 L313.8,1048.9 L314.6,1048.4 L315.5,1047.6 L316.1,1045.9 L317.4,1045.0 L318.0,1044.3 L318.8,1043.7 L320.1,1042.1 L320.3,1040.8 L320.6,1039.6 L320.7,1038.0 L321.0,1037.5 L321.5,1035.4 L322.1,1035.0 L322.0,1032.6 L322.0,1031.2 L322.3,1029.8 L322.4,1028.7 L322.8,1028.1 L323.0,1026.2 L322.7,1027.6 L322.6,1028.6 L322.3,1029.7 L322.8,1030.8 L322.4,1032.6 L322.5,1033.4 L322.1,1034.6 L322.1,1036.1 L322.3,1037.8 L322.4,1035.6 L322.0,1035.2 L322.6,1033.7 L322.5,1031.9 L322.5,1031.7 L322.9,1030.4 L323.1,1028.5 L322.7,1027.1 L323.0,1026.5 L324.0,1027.8 L324.6,1029.1 L325.3,1030.1 L325.8,1031.7 L326.9,1032.5 L328.1,1032.5 L328.8,1033.1 L329.9,1032.3 L330.3,1030.3 L331.3,1029.7 L332.0,1028.0 L333.5,1028.1 L334.7,1028.9 L336.4,1029.5 L336.4,1030.5 L336.1,1031.5 L336.6,1033.3 L336.2,1033.7 L336.4,1035.7 L336.4,1036.4 L336.6,1038.5 L336.4,1038.6 L336.5,1040.3 L337.4,1041.1 L338.2,1042.7 L338.7,1043.1 L339.7,1044.2 L340.3,1045.1 L340.2,1047.1 L340.5,1048.7 L340.9,1049.1 L341.0,1050.7 L341.5,1052.7 L341.5,1053.4 L343.5,1055.1 L343.5,1052.7 L343.4,1051.8 L343.9,1051.1 L343.8,1049.9 L343.9,1047.8 L343.5,1047.3 L343.8,1044.9 L344.3,1044.1 L344.6,1042.8 L345.0,1041.2 L345.6,1040.4 L346.5,1039.0 L347.5,1038.4 L348.1,1038.5 L349.4,1037.3 L349.2,1036.0 L349.5,1035.1 L349.6,1033.0 L350.3,1031.2 L350.2,1030.7 L351.4,1030.5 L352.0,1031.2 L353.5,1032.1 L354.7,1032.8 L355.8,1032.1 L357.6,1032.5 L358.4,1031.6 L359.7,1030.1 L359.6,1029.4 L360.3,1028.0 L360.4,1026.0 L360.1,1025.3 L361.9,1026.2 L362.9,1025.7 L364.3,1026.3 L365.3,1024.9 L365.9,1024.6 L366.5,1023.6 L366.7,1024.4 L366.9,1025.8 L367.5,1026.8 L368.2,1028.6 L369.2,1028.8 L369.3,1028.2 L369.8,1027.6 L370.4,1026.4 L370.2,1024.1 L370.4,1023.5 L371.0,1022.2 L370.9,1021.0 L371.4,1020.1 L371.6,1019.1 L371.8,1017.0 L372.1,1016.0 L372.2,1017.4 L372.5,1018.6 L372.5,1020.0 L372.7,1022.1 L373.2,1022.7 L373.3,1024.9 L374.6,1024.6 L375.9,1025.8 L377.2,1025.8 L378.2,1026.2 L379.7,1025.8 L379.2,1023.8 L379.2,1022.4 L379.7,1021.6 L379.7,1020.1 L380.0,1018.9 L380.0,1017.9 L380.7,1015.8 L380.8,1015.0 L381.0,1013.4 L381.2,1011.8 L381.8,1013.6 L382.6,1014.4 L382.7,1015.8 L383.6,1016.9 L384.6,1017.4 L386.2,1018.3 L385.9,1019.0 L386.3,1020.7 L386.7,1021.4 L386.6,1023.3 L386.9,1024.0 L387.7,1026.2 L388.6,1027.1 L389.4,1028.2 L390.2,1030.4 L390.4,1031.0 L391.7,1032.0 L392.2,1033.8 L393.5,1034.8 L394.8,1034.2 L396.2,1032.6 L397.3,1032.4 L398.3,1031.5 L398.7,1029.8 L399.5,1028.3 L400.4,1027.1 L401.6,1026.8 L402.4,1025.3 L403.8,1024.9 L404.8,1023.2 L406.6,1023.5 L407.6,1021.7 L408.8,1023.2 L409.7,1024.4 L410.5,1024.9 L411.4,1026.0 L411.3,1028.0 L411.7,1028.5 L411.4,1030.1 L411.8,1031.4 L411.7,1032.5 L412.2,1034.6 L411.9,1035.5 L413.0,1036.2 L413.7,1037.6 L414.3,1039.5 L414.5,1037.9 L414.6,1036.9 L414.8,1035.7 L415.0,1034.2 L415.0,1033.1 L415.5,1031.3 L415.9,1030.7 L416.9,1028.9 L418.1,1027.9 L419.0,1027.2 L418.8,1025.9 L418.9,1024.1 L418.8,1022.8 L419.6,1022.6 L420.2,1020.7 L420.9,1020.1 L421.8,1018.8 L422.5,1018.8 L422.4,1017.4 L422.1,1016.3 L422.3,1015.0 L422.5,1012.8 L422.4,1012.5 L422.0,1010.5 L422.4,1009.0 L422.5,1007.9 L422.5,1006.5 L422.3,1006.2 L422.1,1004.1 L422.3,1002.9 L422.5,1001.6 L423.1,1001.4 L423.9,1000.2 L424.1,998.9 L424.6,997.4 L425.4,996.1 L426.0,995.1 L426.0,996.8 L425.8,998.2 L426.2,998.7 L426.5,999.8 L426.7,1001.5 L426.5,1002.9 L426.6,1003.5 L426.9,1004.6 L427.7,1006.2 L428.2,1008.4 L428.9,1009.4 L429.3,1007.4 L429.7,1006.3 L430.7,1005.5 L431.2,1004.8 L431.6,1002.8 L432.8,1001.6 L433.2,1000.9 L434.1,999.9 L434.4,1001.6 L434.9,1002.4 L435.2,1004.1 L435.1,1006.0 L435.5,1006.4 L435.6,1008.3 L436.8,1007.5 L437.3,1005.9 L437.8,1005.3 L438.9,1004.0 L439.2,1005.4 L439.6,1007.0 L439.5,1008.5 L439.6,1009.3 L440.1,1010.3 L440.1,1012.2 L440.6,1010.9 L441.7,1009.3 L441.8,1008.8 L442.5,1007.7 L443.2,1006.1 L444.3,1006.0 L445.5,1006.5 L447.3,1006.1 L448.1,1005.7 L449.9,1004.8 L451.3,1004.3 L452.3,1003.3 L452.5,1001.9 L452.8,1001.4 L453.3,1000.2 L453.5,998.2 L453.6,997.0 L454.0,995.8 L454.1,997.1 L454.9,997.8 L455.2,998.8 L455.3,1000.3 L456.0,1002.3 L456.4,1002.8 L456.9,1004.0 L456.9,1005.9 L457.5,1006.9 L457.9,1008.4 L458.2,1007.1 L458.7,1006.0 L459.0,1004.7 L459.4,1003.0 L459.6,1002.2 L459.9,1001.4 L460.3,999.2 L461.2,1001.2 L462.2,1001.1 L462.9,1001.9 L463.6,1004.0 L463.8,1005.4 L463.6,1006.6 L464.0,1008.2 L464.5,1009.7 L464.3,1011.0 L466.4,1011.1 L467.5,1010.2 L469.0,1010.0 L470.4,1011.7 L471.2,1012.5 L472.2,1012.7 L472.8,1013.3 L474.1,1014.2 L474.2,1015.6 L474.4,1016.6 L475.0,1018.3 L475.4,1018.9 L476.2,1020.3 L476.5,1021.6 L476.4,1022.5 L477.2,1021.8 L477.7,1020.6 L478.4,1018.8 L479.2,1017.5 L479.7,1016.5 L479.8,1015.3 L480.8,1015.1 L481.5,1015.2 L482.8,1016.3 L483.7,1016.6 L484.9,1017.6 L485.9,1018.4 L487.0,1016.5 L488.4,1015.7 L489.2,1014.7 L490.3,1015.3 L491.8,1015.8 L492.8,1015.7 L493.1,1016.9 L493.8,1017.8 L494.3,1018.9 L494.3,1020.3 L495.1,1021.8 L495.2,1023.4 L495.5,1024.1 L496.1,1025.6 L496.8,1024.4 L497.1,1022.9 L497.5,1022.5 L498.4,1021.3 L498.6,1019.9 L499.5,1021.1 L499.7,1022.1 L500.7,1023.0 L500.9,1024.2 L501.7,1025.9 L502.0,1026.2 L502.1,1027.8 L502.4,1028.9 L502.4,1030.3 L502.8,1032.3 L502.4,1033.9 L502.5,1034.6 L503.1,1036.4 L503.7,1037.3 L504.0,1038.9 L504.6,1039.7 L504.8,1040.8 L504.8,1042.9 L505.0,1043.8 L504.9,1045.0 L504.6,1046.4 L504.8,1047.9 L505.1,1048.7 L504.9,1050.4 L504.8,1051.0 L505.0,1053.0 L505.0,1054.0 L505.1,1055.3 L504.9,1056.2 L504.7,1057.7 L504.8,1058.8 L505.4,1060.5 L505.5,1061.3 L505.6,1062.9 L505.9,1064.1 L506.1,1066.1 L506.0,1067.1 L506.8,1065.7 L507.1,1065.3 L507.3,1063.6 L507.8,1062.8 L508.7,1061.4 L508.6,1060.3 L509.9,1059.5 L510.9,1058.4 L512.1,1057.2 L512.9,1056.7 L512.9,1055.1 L513.2,1053.8 L513.3,1052.7 L513.6,1050.3 L513.7,1049.4 L513.8,1048.0 L514.2,1047.0 L514.8,1045.4 L515.4,1044.9 L516.5,1043.6 L516.8,1042.9 L517.6,1041.1 L517.5,1040.5 L518.0,1039.1 L518.0,1037.8 L517.9,1037.1 L518.1,1035.5 L518.5,1034.5 L518.5,1032.6 L518.6,1031.2 L518.9,1030.3 L519.0,1028.9 L518.9,1027.7 L519.3,1026.3 L519.3,1025.6 L519.8,1023.7 L520.2,1022.6 L520.6,1021.4 L521.1,1019.8 L521.5,1021.5 L521.3,1022.7 L522.1,1023.9 L522.0,1025.1 L522.5,1025.3 L522.5,1027.6 L523.2,1028.0 L523.1,1029.1 L523.5,1031.0 L524.5,1029.4 L525.7,1029.2 L526.1,1028.5 L526.7,1029.5 L527.0,1030.8 L527.4,1032.0 L527.4,1033.0 L527.9,1034.2 L528.1,1035.6 L528.5,1036.1 L528.6,1037.1 L529.0,1038.2 L530.0,1039.7 L531.0,1041.4 L531.1,1043.1 L530.9,1044.3 L531.2,1045.2 L531.4,1046.8 L531.2,1047.5 L531.6,1048.4 L531.5,1050.3 L531.2,1051.5 L531.6,1053.1 L531.5,1054.4 L531.6,1055.0 L531.9,1055.7 L531.9,1057.7 L532.4,1056.9 L533.3,1055.4 L534.2,1054.6 L534.8,1053.2 L535.7,1052.2 L537.3,1051.9 L538.6,1052.1 L539.8,1051.9 L541.1,1052.7 L541.5,1053.7 L541.6,1054.4 L541.8,1055.9 L542.3,1057.3 L542.2,1058.5 L543.8,1057.7 L544.4,1056.9 L545.5,1056.2 L547.2,1056.1 L548.2,1055.8 L549.4,1055.0 L549.5,1053.8 L549.8,1052.5 L550.0,1050.8 L550.2,1049.9 L550.5,1048.2 L550.3,1046.9 L550.9,1046.7 L551.1,1044.8 L551.4,1044.1 L551.5,1042.3 L551.5,1041.2 L551.8,1040.0 L552.6,1041.7 L552.9,1042.4 L553.6,1043.0 L554.7,1044.6 L555.5,1045.6 L555.6,1046.7 L556.7,1048.3 L557.8,1048.8 L558.2,1049.3 L559.1,1050.5 L559.6,1051.3 L560.6,1052.8" fill="none" stroke="#ff0000" stroke-width="3.7" stroke-linejoin="round" stroke-linecap="round" />
<line x1="266" y1="976.9" x2="305.3" y2="976.9" stroke="#f00" stroke-width="3.5" stroke-linecap="round"/>
<text x="310.2" y="976.9" font-size="14" dominant-baseline="central" font-family="Liberation Sans" fill="#222" textLength="197.3" lengthAdjust="spacingAndGlyphs">苯乙烯 华东地区（元/吨）</text>
<rect x="625" y="955" width="436" height="187" fill="#fff"/>
<line x1="676.6" y1="988.7" x2="1032" y2="988.7" stroke="#000" stroke-width="1.6" stroke-dasharray="4.4 1.5"/>
<line x1="676.6" y1="1013.7" x2="1032" y2="1013.7" stroke="#000" stroke-width="1.6" stroke-dasharray="4.4 1.5"/>
<line x1="676.6" y1="1038.7" x2="1032" y2="1038.7" stroke="#000" stroke-width="1.6" stroke-dasharray="4.4 1.5"/>
<line x1="676.6" y1="1063.8" x2="1032" y2="1063.8" stroke="#000" stroke-width="1.6" stroke-dasharray="4.4 1.5"/>
<line x1="676.6" y1="987.7" x2="676.6" y2="1089.8" stroke="#000" stroke-width="1.8"/>
<line x1="675.6" y1="1088.8" x2="1032" y2="1088.8" stroke="#000" stroke-width="1.8"/>
<line x1="709.6" y1="1083.8" x2="709.6" y2="1088.8" stroke="#000" stroke-width="1.5"/>
<line x1="742.5" y1="1083.8" x2="742.5" y2="1088.8" stroke="#000" stroke-width="1.5"/>
<line x1="775.8" y1="1083.8" x2="775.8" y2="1088.8" stroke="#000" stroke-width="1.5"/>
<line x1="808.9" y1="1083.8" x2="808.9" y2="1088.8" stroke="#000" stroke-width="1.5"/>
<line x1="842.1" y1="1083.8" x2="842.1" y2="1088.8" stroke="#000" stroke-width="1.5"/>
<line x1="875.4" y1="1083.8" x2="875.4" y2="1088.8" stroke="#000" stroke-width="1.5"/>
<line x1="908.2" y1="1083.8" x2="908.2" y2="1088.8" stroke="#000" stroke-width="1.5"/>
<line x1="941.4" y1="1083.8" x2="941.4" y2="1088.8" stroke="#000" stroke-width="1.5"/>
<line x1="974.4" y1="1083.8" x2="974.4" y2="1088.8" stroke="#000" stroke-width="1.5"/>
<line x1="1007.6" y1="1083.8" x2="1007.6" y2="1088.8" stroke="#000" stroke-width="1.5"/>
<text transform="translate(663.5 988.8) scale(1.0 1)" font-size="14.5" font-weight="normal" font-family="Liberation Serif" text-anchor="end" dominant-baseline="central">2000</text>
<text transform="translate(663.5 1013.6) scale(1.0 1)" font-size="14.5" font-weight="normal" font-family="Liberation Serif" text-anchor="end" dominant-baseline="central">1500</text>
<text transform="translate(663.5 1038.7) scale(1.0 1)" font-size="14.5" font-weight="normal" font-family="Liberation Serif" text-anchor="end" dominant-baseline="central">1000</text>
<text transform="translate(663.5 1063.8) scale(1.0 1)" font-size="14.5" font-weight="normal" font-family="Liberation Serif" text-anchor="end" dominant-baseline="central">500</text>
<text transform="translate(663.5 1089.5) scale(1.0 1)" font-size="14.5" font-weight="normal" font-family="Liberation Serif" text-anchor="end" dominant-baseline="central">0</text>
<text transform="translate(678.9 1104.8) rotate(-45) scale(0.95 1)" font-size="14.5" font-weight="bold" text-anchor="end">07/6</text>
<text transform="translate(712.0 1104.8) rotate(-45) scale(0.95 1)" font-size="14.5" font-weight="bold" text-anchor="end">08/4</text>
<text transform="translate(744.9 1104.8) rotate(-45) scale(0.95 1)" font-size="14.5" font-weight="bold" text-anchor="end">09/2</text>
<text transform="translate(778.2 1104.8) rotate(-45) scale(0.95 1)" font-size="14.5" font-weight="bold" text-anchor="end">09/12</text>
<text transform="translate(811.3 1104.8) rotate(-45) scale(0.95 1)" font-size="14.5" font-weight="bold" text-anchor="end">10/10</text>
<text transform="translate(844.5 1104.8) rotate(-45) scale(0.95 1)" font-size="14.5" font-weight="bold" text-anchor="end">11/8</text>
<text transform="translate(877.8 1104.8) rotate(-45) scale(0.95 1)" font-size="14.5" font-weight="bold" text-anchor="end">12/6</text>
<text transform="translate(910.6 1104.8) rotate(-45) scale(0.95 1)" font-size="14.5" font-weight="bold" text-anchor="end">13/4</text>
<text transform="translate(943.8 1104.8) rotate(-45) scale(0.95 1)" font-size="14.5" font-weight="bold" text-anchor="end">14/2</text>
<text transform="translate(976.8 1104.8) rotate(-45) scale(0.95 1)" font-size="14.5" font-weight="bold" text-anchor="end">14/12</text>
<text transform="translate(1010.0 1104.8) rotate(-45) scale(0.95 1)" font-size="14.5" font-weight="bold" text-anchor="end">15/10</text>
<path d="M675.9,1022.8 L676.5,1021.5 L677.1,1020.0 L678.4,1019.0 L679.4,1019.1 L680.5,1018.9 L681.5,1019.0 L682.7,1018.2 L683.8,1018.1 L684.4,1019.9 L684.6,1020.3 L684.9,1022.4 L685.1,1023.2 L685.5,1024.5 L685.9,1023.0 L686.3,1021.5 L686.9,1019.9 L687.8,1018.9 L689.6,1018.8 L690.5,1018.7 L691.5,1019.5 L692.4,1020.1 L692.8,1021.7 L693.5,1022.6 L694.2,1023.5 L695.3,1024.8 L696.2,1023.3 L696.5,1022.0 L697.5,1021.3 L698.0,1020.7 L699.2,1019.7 L700.1,1018.4 L700.9,1017.7 L702.1,1017.0 L703.2,1016.6 L704.7,1015.8 L705.6,1015.7 L707.0,1016.4 L707.9,1016.1 L709.2,1015.3 L710.1,1014.4 L710.4,1013.4 L711.1,1012.2 L711.4,1010.8 L711.5,1009.3 L711.3,1007.8 L711.4,1006.9 L711.6,1005.8 L711.8,1004.4 L713.6,1002.2 L714.4,1003.2 L715.9,1004.4 L717.5,1005.0 L718.6,1005.7 L719.6,1006.9 L719.7,1008.0 L719.9,1010.0 L720.0,1011.1 L719.7,1012.7 L721.4,1012.1 L723.0,1012.7 L723.4,1013.5 L723.7,1015.1 L724.4,1015.8 L724.9,1017.5 L725.7,1018.3 L726.2,1019.2 L726.8,1020.0 L727.0,1021.3 L727.2,1023.2 L727.2,1023.9 L727.2,1025.6 L727.1,1027.5 L727.6,1028.4 L727.6,1029.3 L727.3,1030.9 L727.7,1032.2 L727.3,1033.4 L727.9,1034.8 L727.9,1036.3 L727.5,1036.8 L727.8,1038.8 L727.7,1040.0 L728.0,1040.8 L727.9,1042.5 L728.1,1043.0 L728.1,1044.2 L728.6,1045.9 L729.7,1046.3 L729.3,1047.9 L729.6,1049.2 L729.6,1050.6 L729.5,1051.7 L729.1,1052.8 L729.2,1054.2 L729.3,1055.2 L728.8,1057.0 L728.9,1058.0 L728.8,1059.7 L728.8,1060.4 L730.4,1061.1 L731.3,1062.0 L732.7,1061.0 L734.3,1060.9 L735.4,1059.9 L736.7,1059.7 L737.5,1058.5 L738.3,1057.9 L738.8,1056.7 L739.9,1056.1 L740.8,1054.8 L741.1,1053.4 L742.2,1051.6 L742.8,1051.1 L743.8,1049.9 L743.5,1048.4 L744.2,1047.3 L744.0,1045.4 L744.6,1045.0 L744.7,1043.3 L745.1,1042.6 L745.4,1041.3 L745.5,1039.8 L745.9,1038.7 L746.4,1037.3 L746.9,1036.4 L746.9,1035.2 L747.2,1036.6 L747.7,1037.5 L747.6,1038.9 L747.8,1040.6 L748.0,1041.1 L748.5,1043.0 L748.8,1044.1 L748.8,1045.6 L749.2,1046.5 L749.8,1045.7 L750.7,1044.4 L750.8,1042.5 L751.6,1041.1 L752.2,1039.8 L752.7,1039.1 L752.9,1037.7 L753.5,1036.7 L753.9,1035.8 L755.0,1034.6 L756.1,1032.8 L757.6,1033.7 L758.6,1034.6 L759.2,1032.5 L759.9,1031.4 L760.5,1029.9 L761.4,1030.4 L762.0,1031.4 L763.0,1032.9 L763.6,1033.3 L764.1,1034.4 L764.7,1036.4 L765.3,1037.3 L766.2,1037.9 L766.8,1039.0 L767.2,1038.3 L767.9,1037.5 L768.8,1035.9 L769.8,1034.2 L770.6,1032.9 L771.2,1032.5 L772.2,1031.2 L773.0,1030.5 L773.3,1031.6 L773.6,1033.3 L773.9,1032.0 L774.4,1030.8 L774.5,1029.2 L774.5,1028.7 L775.1,1027.1 L774.8,1025.7 L775.3,1024.6 L775.6,1023.4 L775.9,1022.6 L777.5,1022.6 L778.9,1022.1 L779.8,1023.1 L780.5,1024.3 L781.2,1025.3 L781.9,1026.2 L782.9,1025.9 L783.8,1025.1 L784.8,1024.3 L786.3,1024.4 L788.0,1024.0 L789.2,1024.7 L789.4,1025.9 L790.0,1026.6 L790.2,1028.0 L790.6,1029.2 L790.3,1030.3 L790.9,1031.8 L790.9,1033.9 L792.1,1034.6 L792.9,1035.6 L793.5,1036.7 L794.6,1037.8 L795.6,1038.8 L796.3,1039.9 L796.9,1038.2 L797.8,1037.5 L798.5,1036.3 L799.2,1034.5 L799.4,1033.0 L800.8,1033.2 L801.9,1032.0 L803.0,1031.7 L803.9,1031.2 L805.0,1029.9 L805.0,1029.2 L805.5,1027.7 L805.4,1026.9 L805.4,1025.6 L805.7,1024.2 L807.0,1024.0 L808.8,1023.0 L810.0,1024.2 L811.2,1024.9 L812.2,1025.6 L812.8,1024.4 L813.3,1023.0 L814.2,1022.5 L815.0,1021.4 L815.8,1020.4 L816.3,1018.9 L817.7,1018.8 L819.4,1019.4 L819.7,1017.7 L820.4,1016.8 L821.3,1015.0 L822.4,1016.3 L823.1,1017.2 L824.6,1017.9 L825.1,1019.4 L826.2,1018.5 L826.7,1017.1 L827.2,1015.6 L828.3,1014.6 L828.8,1013.3 L829.7,1014.3 L830.8,1015.7 L831.3,1016.5 L832.6,1017.4 L833.4,1017.8 L834.4,1018.7 L835.4,1018.9 L836.0,1017.8 L836.1,1016.5 L836.5,1015.2 L836.6,1014.3 L836.9,1013.1 L837.2,1011.9 L837.9,1010.8 L838.3,1009.9 L838.4,1008.2 L839.3,1009.6 L839.9,1010.4 L840.8,1011.2 L841.4,1012.1 L841.4,1013.5 L841.6,1014.5 L841.2,1016.5 L841.4,1017.5 L841.7,1018.9 L841.5,1020.4 L841.5,1021.1 L841.2,1022.1 L841.6,1024.1 L841.3,1025.0 L841.5,1026.4 L841.3,1028.0 L841.5,1029.0 L841.5,1030.0 L841.5,1031.1 L841.6,1030.3 L841.7,1028.8 L841.5,1027.4 L841.6,1026.2 L841.9,1025.4 L842.2,1024.1 L842.3,1022.5 L842.1,1021.3 L842.3,1020.6 L842.5,1019.2 L842.5,1017.9 L842.4,1016.6 L842.7,1015.7 L842.6,1014.8 L842.7,1012.9 L844.2,1014.1 L845.5,1015.5 L845.8,1016.9 L846.1,1018.1 L846.4,1018.9 L846.5,1020.3 L847.1,1021.8 L847.5,1023.5 L849.1,1023.0 L850.4,1022.8 L851.7,1023.8 L852.8,1023.0 L854.2,1022.0 L855.7,1021.8 L856.2,1019.8 L857.3,1018.9 L858.0,1017.3 L858.8,1015.9 L859.2,1015.1 L860.6,1014.1 L861.2,1013.0 L861.8,1012.2 L863.3,1013.1 L864.6,1014.1 L865.9,1015.7 L866.7,1014.2 L867.7,1014.0 L868.7,1013.2 L869.4,1015.1 L870.1,1015.5 L870.7,1017.4 L871.0,1018.9 L871.1,1019.1 L871.9,1020.3 L871.9,1022.2 L872.4,1023.4 L873.0,1024.4 L873.1,1024.9 L874.0,1024.5 L874.4,1022.9 L874.5,1021.8 L875.1,1020.2 L875.4,1019.2 L876.5,1018.3 L878.0,1018.2 L878.9,1017.0 L879.9,1015.9 L880.7,1015.7 L881.6,1014.7 L882.4,1013.1 L882.9,1012.0 L883.4,1010.3 L884.7,1010.0 L885.9,1008.9 L887.6,1008.8 L888.5,1008.4 L889.9,1007.5 L890.6,1006.0 L891.6,1005.0 L892.0,1004.0 L892.7,1002.6 L893.6,1001.1 L895.1,1000.3 L896.0,999.5 L897.3,999.9 L898.7,1000.5 L900.1,1001.4 L900.1,1002.2 L901.1,1003.3 L901.1,1005.0 L902.0,1006.7 L903.6,1005.6 L904.8,1004.7 L906.4,1004.6 L907.4,1004.2 L908.8,1003.6 L910.5,1003.9 L911.6,1002.8 L913.0,1002.0 L914.1,1001.5 L915.4,1001.5 L916.1,1000.4 L916.7,999.1 L917.2,997.5 L918.1,996.8 L918.8,997.5 L919.5,999.3 L920.2,1000.3 L920.7,1001.5 L921.5,999.9 L922.2,998.6 L923.4,999.2 L924.9,999.3 L925.8,999.7 L926.4,1000.8 L927.1,1002.9 L927.9,1003.7 L928.0,1005.4 L929.0,1006.1 L929.6,1005.6 L930.8,1004.4 L931.9,1003.7 L932.7,1002.1 L933.8,1003.1 L935.0,1003.9 L936.5,1004.1 L937.5,1005.1 L938.2,1006.1 L939.4,1007.6 L939.7,1008.4 L940.9,1008.3 L941.8,1007.8 L943.3,1006.7 L944.3,1006.0 L945.3,1006.4 L946.7,1007.0 L948.5,1007.9 L949.5,1008.9 L950.7,1009.8 L951.7,1009.0 L952.2,1008.1 L952.9,1007.2 L954.2,1006.4 L955.2,1005.8 L956.6,1006.0 L957.5,1004.8 L958.3,1006.7 L959.1,1007.1 L959.5,1008.8 L960.2,1009.6 L961.2,1010.2 L962.3,1012.1 L963.8,1012.5 L964.4,1013.1 L965.6,1014.1 L966.8,1014.0 L967.4,1015.6 L967.2,1016.8 L967.4,1018.6 L968.4,1019.9 L968.8,1020.9 L969.3,1022.7 L969.7,1023.7 L970.4,1024.6 L970.8,1025.8 L970.8,1027.3 L970.9,1028.2 L971.0,1029.8 L971.1,1031.0 L971.3,1032.7 L971.2,1033.4 L971.6,1035.2 L971.9,1036.0 L971.5,1037.9 L971.7,1039.2 L971.9,1040.1 L972.1,1041.7 L972.2,1043.7 L972.3,1045.0 L973.5,1044.7 L975.0,1045.2 L976.5,1045.4 L977.1,1044.4 L977.5,1043.2 L978.0,1041.9 L979.1,1040.7 L979.6,1039.9 L980.2,1038.5 L980.2,1037.6 L980.2,1036.2 L980.7,1034.7 L980.3,1033.5 L980.9,1032.0 L981.1,1030.6 L981.1,1029.3 L982.3,1028.9 L984.1,1029.8 L984.0,1028.4 L984.2,1026.5 L984.1,1024.6 L984.6,1024.1 L984.7,1021.9 L985.3,1020.8 L985.8,1020.2 L986.3,1018.6 L986.9,1017.4 L987.7,1016.7 L988.9,1015.0 L989.8,1013.6 L990.1,1015.5 L990.3,1016.7 L990.7,1017.8 L990.4,1019.5 L990.7,1020.6 L991.1,1022.2 L991.1,1023.7 L991.6,1022.3 L992.6,1020.8 L992.8,1020.1 L993.6,1020.7 L993.8,1022.1 L994.7,1023.2 L994.9,1024.6 L995.3,1026.3 L996.1,1027.9 L996.1,1029.0 L996.1,1030.5 L997.6,1030.7 L998.7,1031.8 L999.8,1031.5 L999.9,1033.5 L999.8,1034.3 L1000.4,1035.7 L1000.1,1036.8 L1000.4,1037.9 L1000.6,1039.8 L1000.6,1040.5 L1000.2,1042.0 L1000.5,1043.5 L1002.0,1042.4 L1003.7,1042.0 L1004.4,1041.5 L1005.7,1041.2 L1007.1,1041.0 L1007.9,1041.6 L1009.5,1042.4 L1010.2,1043.0 L1011.7,1043.5 L1013.0,1042.7 L1014.1,1043.0 L1015.4,1042.2 L1016.2,1043.1 L1017.8,1043.9 L1018.2,1042.1 L1019.0,1040.8 L1019.4,1040.3 L1019.9,1039.0 L1020.4,1037.8 L1020.9,1036.6 L1021.2,1034.8 L1021.4,1033.6 L1021.7,1032.7 L1022.5,1031.5 L1023.2,1031.7 L1024.4,1032.4 L1025.5,1033.4 L1026.9,1033.2 L1028.1,1033.9 L1029.0,1035.2 L1030.2,1036.2 L1030.5,1037.7 L1031.7,1038.8" fill="none" stroke="#ff0000" stroke-width="3.7" stroke-linejoin="round" stroke-linecap="round" />
<line x1="710" y1="972.4" x2="747" y2="972.4" stroke="#f00" stroke-width="3.5" stroke-linecap="round"/>
<text x="752.7" y="972.4" font-size="14" dominant-baseline="central" font-family="Liberation Sans" fill="#222" textLength="268.8" lengthAdjust="spacingAndGlyphs">百川资讯 苯乙烯 CFR华东（美元/吨）</text>
</svg></body></html>
